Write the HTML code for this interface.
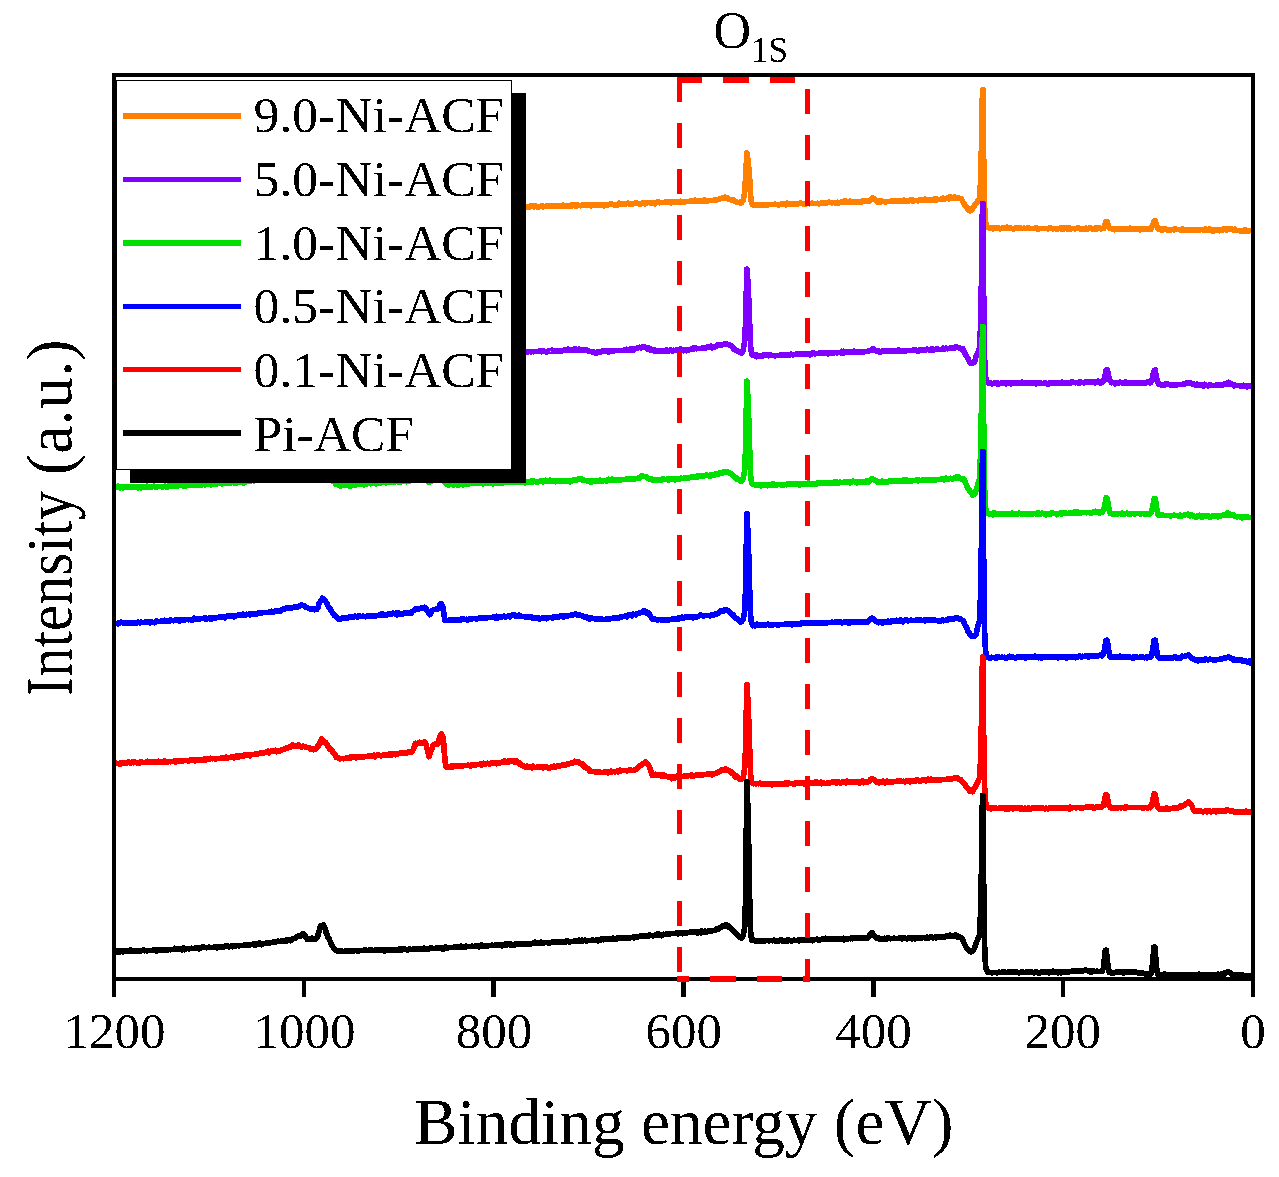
<!DOCTYPE html>
<html><head><meta charset="utf-8"><title>XPS survey spectra</title>
<style>
html,body{margin:0;padding:0;background:#fff;}
body{width:1279px;height:1177px;position:relative;overflow:hidden;font-family:"Liberation Serif",serif;}
</style></head><body>
<svg width="1279" height="1177" viewBox="0 0 1279 1177" style="position:absolute;left:0;top:0">
<rect width="1279" height="1177" fill="#fff"/>
<defs><filter id="bw" x="-5%" y="-5%" width="110%" height="110%" color-interpolation-filters="sRGB"><feComponentTransfer><feFuncA type="discrete" tableValues="0 1"/></feComponentTransfer></filter><clipPath id="cp"><rect x="116" y="77" width="1135" height="904"/></clipPath></defs>
<g clip-path="url(#cp)" fill="none" stroke-linejoin="round" stroke-linecap="butt" shape-rendering="crispEdges">
<polyline stroke="#ff8000" stroke-width="5.7" points="116.0,220.4 117.0,220.9 118.0,221.0 119.0,220.0 120.0,220.9 121.0,220.9 122.0,220.9 123.0,220.6 124.0,220.5 125.0,220.5 126.0,220.7 127.0,220.7 128.0,220.7 129.0,220.6 130.0,220.6 131.0,220.7 132.0,220.4 133.0,220.6 134.0,220.9 135.0,220.4 136.0,220.5 137.0,220.4 138.0,220.2 139.0,220.4 140.0,220.2 141.0,220.0 142.0,220.2 143.0,219.9 144.0,220.1 145.0,220.0 146.0,220.0 147.0,219.9 148.0,219.9 149.0,219.2 150.0,219.9 151.0,219.9 152.0,218.8 153.0,219.7 154.0,219.6 155.0,219.8 156.0,219.6 157.0,219.6 158.0,219.4 159.0,219.6 160.0,219.6 161.0,219.5 162.0,219.4 163.0,220.2 164.0,220.1 165.0,219.3 166.0,219.3 167.0,219.2 168.0,218.4 169.0,219.0 170.0,219.7 171.0,218.9 172.0,219.1 173.0,219.0 174.0,219.1 175.0,219.5 176.0,218.1 177.0,218.8 178.0,218.9 179.0,219.5 180.0,218.7 181.0,217.8 182.0,218.9 183.0,219.3 184.0,218.5 185.0,218.7 186.0,218.5 187.0,218.7 188.0,218.4 189.0,218.4 190.0,218.4 191.0,218.2 192.0,218.6 193.0,218.3 194.0,218.2 195.0,218.4 196.0,218.1 197.0,217.4 198.0,218.8 199.0,218.3 200.0,218.1 201.0,218.0 202.0,218.8 203.0,218.2 204.0,218.0 205.0,218.9 206.0,217.0 207.0,217.9 208.0,218.4 209.0,217.9 210.0,217.7 211.0,217.8 212.0,217.9 213.0,217.1 214.0,217.0 215.0,217.6 216.0,217.5 217.0,216.6 218.0,217.7 219.0,217.3 220.0,217.3 221.0,216.7 222.0,217.2 223.0,216.5 224.0,217.2 225.0,217.1 226.0,217.9 227.0,217.2 228.0,217.7 229.0,217.6 230.0,216.9 231.0,216.5 232.0,217.0 233.0,217.6 234.0,217.0 235.0,217.8 236.0,217.0 237.0,216.9 238.0,216.7 239.0,216.6 240.0,216.9 241.0,216.6 242.0,216.6 243.0,217.6 244.0,216.4 245.0,217.4 246.0,216.5 247.0,216.4 248.0,217.0 249.0,216.3 250.0,216.3 251.0,216.9 252.0,216.9 253.0,215.7 254.0,215.6 255.0,216.4 256.0,216.0 257.0,216.9 258.0,216.0 259.0,216.2 260.0,215.5 261.0,215.1 262.0,215.8 263.0,216.1 264.0,216.1 265.0,215.0 266.0,215.9 267.0,215.8 268.0,216.0 269.0,216.5 270.0,215.1 271.0,216.6 272.0,215.7 273.0,215.6 274.0,215.5 275.0,215.3 276.0,215.5 277.0,215.3 278.0,215.3 279.0,216.4 280.0,215.4 281.0,214.7 282.0,216.0 283.0,215.2 284.0,215.3 285.0,216.0 286.0,215.2 287.0,215.2 288.0,215.1 289.0,214.9 290.0,215.1 291.0,214.9 292.0,215.1 293.0,215.8 294.0,214.8 295.0,214.9 296.0,215.0 297.0,215.0 298.0,214.6 299.0,214.6 300.0,214.8 301.0,215.5 302.0,214.6 303.0,213.8 304.0,215.3 305.0,214.7 306.0,214.3 307.0,214.6 308.0,214.5 309.0,214.5 310.0,214.3 311.0,214.3 312.0,215.0 313.0,214.2 314.0,215.0 315.0,214.0 316.0,214.0 317.0,213.9 318.0,214.8 319.0,213.1 320.0,214.6 321.0,214.7 322.0,214.0 323.0,214.0 324.0,213.9 325.0,214.0 326.0,213.8 327.0,213.7 328.0,213.2 329.0,213.7 330.0,213.7 331.0,213.5 332.0,213.6 333.0,213.5 334.0,213.5 335.0,214.3 336.0,213.4 337.0,213.5 338.0,213.2 339.0,213.3 340.0,213.5 341.0,213.4 342.0,213.3 343.0,214.0 344.0,213.3 345.0,213.3 346.0,213.1 347.0,212.9 348.0,213.1 349.0,213.2 350.0,213.0 351.0,213.0 352.0,212.7 353.0,212.7 354.0,212.7 355.0,212.0 356.0,212.9 357.0,212.8 358.0,212.7 359.0,212.5 360.0,212.8 361.0,212.4 362.0,212.5 363.0,212.3 364.0,212.6 365.0,212.4 366.0,212.2 367.0,212.5 368.0,212.3 369.0,212.3 370.0,211.6 371.0,212.1 372.0,212.4 373.0,212.1 374.0,211.9 375.0,212.2 376.0,212.1 377.0,212.1 378.0,211.9 379.0,211.9 380.0,212.0 381.0,211.9 382.0,211.9 383.0,212.0 384.0,212.0 385.0,211.6 386.0,211.5 387.0,211.8 388.0,211.7 389.0,211.5 390.0,211.6 391.0,210.6 392.0,211.4 393.0,211.3 394.0,212.0 395.0,212.2 396.0,210.8 397.0,211.1 398.0,211.4 399.0,211.3 400.0,211.4 401.0,211.3 402.0,211.2 403.0,210.4 404.0,211.0 405.0,210.4 406.0,211.0 407.0,211.0 408.0,211.0 409.0,209.9 410.0,210.0 411.0,210.8 412.0,211.0 413.0,210.9 414.0,210.6 415.0,210.5 416.0,209.9 417.0,210.5 418.0,210.5 419.0,209.8 420.0,211.4 421.0,210.4 422.0,210.3 423.0,210.6 424.0,211.1 425.0,210.6 426.0,210.2 427.0,209.6 428.0,210.3 429.0,210.1 430.0,210.2 431.0,211.1 432.0,211.0 433.0,210.2 434.0,210.3 435.0,209.1 436.0,209.8 437.0,210.7 438.0,210.4 439.0,209.9 440.0,210.7 441.0,209.8 442.0,209.7 443.0,209.7 444.0,209.9 445.0,210.3 446.0,210.6 447.0,209.5 448.0,209.5 449.0,209.5 450.0,209.6 451.0,209.5 452.0,210.2 453.0,209.5 454.0,209.4 455.0,210.2 456.0,210.1 457.0,209.8 458.0,210.1 459.0,209.1 460.0,209.1 461.0,209.2 462.0,209.1 463.0,210.0 464.0,209.0 465.0,209.0 466.0,209.1 467.0,209.1 468.0,208.3 469.0,208.9 470.0,208.9 471.0,208.9 472.0,208.9 473.0,208.7 474.0,208.9 475.0,208.5 476.0,207.8 477.0,208.5 478.0,208.6 479.0,207.5 480.0,208.6 481.0,207.6 482.0,208.2 483.0,207.6 484.0,208.9 485.0,208.4 486.0,208.2 487.0,208.3 488.0,208.4 489.0,208.2 490.0,208.3 491.0,208.2 492.0,208.3 493.0,207.9 494.0,208.1 495.0,208.0 496.0,208.1 497.0,207.9 498.0,208.4 499.0,207.9 500.0,207.8 501.0,207.8 502.0,207.7 503.0,207.7 504.0,207.6 505.0,207.8 506.0,207.6 507.0,207.6 508.0,207.4 509.0,207.3 510.0,207.6 511.0,207.2 512.0,207.4 513.0,208.0 514.0,207.5 515.0,207.4 516.0,207.4 517.0,207.2 518.0,207.1 519.0,207.1 520.0,207.1 521.0,207.6 522.0,206.1 523.0,206.9 524.0,207.1 525.0,207.1 526.0,206.9 527.0,206.8 528.0,206.7 529.0,207.0 530.0,206.8 531.0,205.8 532.0,206.2 533.0,206.0 534.0,206.8 535.0,205.9 536.0,206.6 537.0,206.8 538.0,207.5 539.0,206.8 540.0,206.4 541.0,206.6 542.0,205.7 543.0,207.0 544.0,206.5 545.0,206.4 546.0,206.4 547.0,205.8 548.0,206.4 549.0,206.3 550.0,206.3 551.0,206.4 552.0,206.3 553.0,206.0 554.0,206.3 555.0,206.3 556.0,206.0 557.0,206.0 558.0,205.9 559.0,206.0 560.0,205.9 561.0,206.0 562.0,206.1 563.0,205.0 564.0,205.9 565.0,205.9 566.0,205.9 567.0,205.7 568.0,205.9 569.0,205.8 570.0,206.5 571.0,205.1 572.0,205.7 573.0,204.8 574.0,204.9 575.0,205.5 576.0,206.3 577.0,204.7 578.0,205.5 579.0,205.5 580.0,205.7 581.0,205.6 582.0,205.3 583.0,205.3 584.0,205.3 585.0,205.3 586.0,204.7 587.0,205.3 588.0,205.1 589.0,205.2 590.0,205.3 591.0,205.9 592.0,205.1 593.0,205.1 594.0,205.2 595.0,205.2 596.0,205.1 597.0,205.1 598.0,205.1 599.0,205.0 600.0,205.1 601.0,204.8 602.0,204.8 603.0,205.5 604.0,205.8 605.0,204.7 606.0,204.9 607.0,205.5 608.0,204.8 609.0,204.5 610.0,204.7 611.0,203.7 612.0,204.5 613.0,204.6 614.0,204.4 615.0,205.3 616.0,204.6 617.0,205.2 618.0,204.3 619.0,203.3 620.0,204.2 621.0,204.3 622.0,204.2 623.0,204.0 624.0,204.0 625.0,203.8 626.0,203.8 627.0,203.7 628.0,203.1 629.0,203.9 630.0,203.9 631.0,203.9 632.0,203.7 633.0,203.9 634.0,203.5 635.0,203.7 636.0,202.6 637.0,203.7 638.0,203.5 639.0,203.5 640.0,204.1 641.0,203.5 642.0,203.4 643.0,202.8 644.0,203.4 645.0,204.1 646.0,203.0 647.0,203.1 648.0,202.4 649.0,202.4 650.0,203.1 651.0,202.9 652.0,202.9 653.0,203.0 654.0,203.5 655.0,203.8 656.0,202.6 657.0,202.6 658.0,201.7 659.0,202.6 660.0,202.7 661.0,202.4 662.0,202.4 663.0,202.5 664.0,202.5 665.0,202.3 666.0,202.6 667.0,202.2 668.0,202.1 669.0,201.7 670.0,202.2 671.0,203.0 672.0,202.1 673.0,202.3 674.0,202.1 675.0,202.1 676.0,201.9 677.0,201.8 678.0,201.8 678.9,201.9 679.9,202.0 680.9,201.3 681.9,201.7 682.9,201.6 683.9,202.5 684.9,201.8 685.9,201.6 686.8,201.6 687.8,201.5 688.8,201.6 689.8,201.3 690.8,200.5 691.8,201.2 692.8,201.2 693.8,201.2 694.7,200.2 695.7,200.3 696.7,201.0 697.7,201.2 698.7,201.1 699.7,200.9 700.7,200.8 701.6,200.8 702.6,200.8 703.6,200.9 704.6,199.9 705.6,200.6 706.6,201.4 707.6,200.6 708.6,200.6 709.5,200.5 710.5,200.5 711.5,200.5 712.5,200.5 713.4,200.4 714.3,200.0 715.2,199.9 716.2,200.0 717.1,199.5 718.0,199.6 719.0,199.1 719.9,198.8 720.9,198.7 721.8,198.3 722.8,197.9 723.8,197.7 724.8,197.1 725.8,198.4 726.9,198.6 727.9,198.1 729.0,199.4 730.0,199.6 731.0,200.0 732.0,200.2 733.0,200.0 734.0,200.3 735.0,201.5 736.0,201.7 737.0,202.0 738.0,202.6 738.9,202.6 739.8,202.1 740.6,203.2 741.5,202.8 742.4,201.1 743.2,200.5 744.6,192.5 745.2,183.5 746.1,168.2 746.9,153.0 747.1,153.0 748.0,160.6 748.8,168.2 750.0,183.5 750.8,199.0 752.0,203.9 752.9,205.0 753.8,205.1 755.0,205.0 756.0,204.8 757.0,204.8 758.0,204.8 759.0,205.1 760.0,204.7 761.0,204.7 762.0,204.6 763.0,204.7 764.0,204.8 765.0,204.9 766.0,204.6 767.0,204.7 768.0,204.8 769.0,204.6 770.0,204.5 771.0,204.7 772.0,204.4 773.0,204.6 774.0,204.4 775.0,204.3 776.0,204.6 777.0,204.4 778.0,205.0 779.0,204.9 780.0,204.4 781.0,204.2 782.0,204.3 783.0,204.2 784.0,204.0 785.0,204.3 786.0,204.9 787.0,203.3 788.0,204.2 789.0,204.0 790.0,204.0 791.0,204.2 792.0,204.1 793.0,204.1 794.0,203.9 795.0,204.0 796.0,204.1 797.0,203.7 798.0,203.7 799.0,203.6 800.0,203.0 801.0,203.2 802.0,203.7 803.0,203.7 804.0,203.6 805.0,204.6 806.0,203.7 807.0,203.6 808.0,203.6 809.0,203.6 810.0,203.7 811.0,203.4 812.0,203.3 813.0,203.4 814.0,203.5 815.0,203.6 816.0,203.4 817.0,203.5 818.0,203.3 819.0,204.1 820.0,203.3 821.0,203.2 822.0,203.1 823.0,202.9 824.0,203.2 825.0,203.6 826.0,202.9 827.0,202.8 828.0,202.7 829.0,202.2 830.0,202.6 831.0,202.6 832.0,202.8 833.0,202.4 834.0,202.5 835.0,202.6 836.0,203.4 837.0,202.3 838.0,202.4 839.0,203.0 840.0,202.4 841.0,202.3 842.0,202.3 843.0,202.0 844.0,201.2 845.0,202.0 846.0,201.1 847.0,202.0 848.0,201.9 849.0,201.8 850.0,201.2 851.0,201.8 852.0,201.7 853.0,201.7 854.0,201.6 855.0,201.6 856.0,202.5 857.0,201.5 858.0,202.4 859.0,201.4 860.0,201.6 861.0,202.6 862.0,201.4 863.0,200.9 864.0,201.4 865.0,200.8 866.0,201.3 867.0,200.8 868.0,201.5 869.1,200.8 870.2,200.7 871.4,199.4 872.5,197.8 873.6,198.9 874.8,199.1 875.9,200.1 877.0,201.6 878.0,202.2 879.0,202.6 880.0,201.0 881.0,201.8 882.0,201.1 883.0,201.5 884.0,201.7 885.0,201.6 886.0,201.7 887.0,201.6 888.0,201.4 889.0,201.5 890.0,201.5 891.0,201.4 892.0,200.4 893.0,201.2 894.0,200.6 895.0,201.1 896.0,201.0 897.0,201.0 898.0,201.0 899.0,200.9 900.0,201.0 901.0,200.9 902.0,200.7 903.0,200.9 904.0,200.2 905.0,201.4 906.0,200.6 907.0,200.6 908.0,200.7 909.0,200.8 910.0,200.7 911.0,199.8 912.0,199.6 913.0,201.3 914.0,200.6 915.0,200.5 916.0,200.5 917.0,200.4 918.0,200.8 919.0,200.3 920.0,200.1 921.0,200.3 922.0,200.1 923.0,199.9 924.0,200.1 925.0,199.0 926.0,200.5 927.0,200.7 928.0,200.1 929.0,200.0 930.0,200.0 931.0,199.8 932.0,200.4 933.0,199.6 934.0,199.1 935.0,198.9 936.0,200.2 937.0,199.1 938.0,199.4 939.0,199.6 940.0,199.6 941.0,199.1 942.0,199.2 943.0,198.1 944.0,198.8 945.0,198.7 946.0,198.7 947.0,198.3 948.0,198.3 949.0,198.7 950.0,196.8 951.0,197.6 952.0,197.7 953.0,198.3 954.0,197.1 955.0,197.2 956.0,197.4 957.0,198.4 958.0,197.9 959.0,198.4 960.0,198.6 961.0,198.9 962.1,200.1 963.2,202.5 964.4,204.2 965.5,206.1 966.4,207.0 967.3,208.2 968.7,210.0 969.5,210.5 970.2,210.9 971.0,210.5 971.7,210.0 973.1,207.5 974.1,206.0 975.1,204.6 976.1,203.6 977.2,202.2 978.1,200.3 979.1,199.3 980.0,197.0 980.8,170.2 981.6,143.5 982.5,90.0 983.0,90.0 983.4,143.5 984.3,197.0 984.9,215.4 985.8,223.3 986.6,225.3 987.5,227.3 988.2,227.5 989.0,227.7 990.0,228.4 991.0,228.4 992.0,228.1 993.0,228.8 994.0,228.3 995.0,228.3 996.0,228.4 997.0,228.4 998.0,227.7 999.0,228.3 1000.0,229.1 1001.0,228.3 1002.0,228.3 1003.0,228.2 1004.0,228.4 1005.0,228.2 1006.0,228.1 1007.0,227.3 1008.0,228.3 1009.0,228.3 1010.0,228.3 1011.0,228.3 1012.0,228.3 1013.0,229.1 1014.0,228.5 1015.0,228.4 1016.0,227.7 1017.0,227.8 1018.0,228.3 1019.0,228.5 1020.0,227.7 1021.0,228.6 1022.0,228.6 1023.0,228.4 1024.0,228.3 1025.0,228.5 1026.0,228.6 1027.0,228.3 1028.0,227.7 1029.0,228.5 1030.0,228.6 1031.0,228.5 1032.0,228.5 1033.0,228.5 1034.0,228.5 1035.0,228.5 1036.0,227.7 1037.0,228.6 1038.0,229.4 1039.0,228.4 1040.0,228.4 1041.0,228.5 1042.0,228.5 1043.0,228.6 1044.0,228.4 1045.0,228.6 1046.0,228.4 1047.0,228.7 1048.0,228.6 1049.0,228.7 1050.0,227.6 1051.0,228.4 1052.0,228.4 1053.0,229.1 1054.0,228.4 1055.0,228.7 1056.0,228.7 1057.0,229.2 1058.0,228.8 1059.0,228.5 1060.0,228.5 1061.0,227.6 1062.0,229.4 1063.0,227.7 1064.0,228.7 1065.0,228.6 1066.0,228.0 1067.0,228.7 1068.0,228.1 1069.0,228.8 1070.0,228.0 1071.0,228.8 1072.0,228.5 1073.0,228.5 1074.0,228.7 1075.0,228.7 1076.0,228.6 1077.0,228.5 1078.0,227.7 1079.0,228.7 1080.0,228.7 1081.0,228.7 1082.0,228.7 1083.0,228.9 1084.0,228.7 1085.0,228.9 1086.0,228.1 1087.0,229.4 1088.0,228.7 1089.0,228.2 1090.0,228.6 1091.0,227.9 1092.0,228.9 1093.0,228.8 1094.0,229.3 1095.0,228.7 1096.0,227.8 1097.0,228.8 1098.0,228.6 1099.1,228.2 1100.1,228.0 1101.1,228.9 1102.1,228.6 1102.8,228.2 1103.6,228.5 1104.9,224.7 1105.9,221.8 1107.1,221.8 1108.1,224.6 1109.4,228.0 1110.2,228.2 1110.9,228.3 1111.9,228.7 1112.9,229.1 1113.9,229.7 1114.9,229.7 1115.9,228.7 1116.9,228.8 1117.9,228.9 1118.9,229.1 1119.9,229.1 1121.0,229.0 1122.0,228.8 1123.0,228.9 1124.0,228.8 1125.0,229.0 1126.0,229.0 1127.0,229.1 1128.0,229.0 1129.0,228.9 1130.0,228.3 1131.0,228.8 1132.0,229.1 1133.0,229.2 1134.0,228.9 1135.0,228.9 1136.1,228.8 1137.1,229.0 1138.1,228.9 1139.1,228.8 1140.1,229.8 1141.1,229.6 1142.1,229.1 1143.1,228.8 1144.1,228.8 1145.1,229.0 1146.2,229.0 1147.2,228.8 1148.2,228.9 1149.2,228.8 1150.2,228.1 1150.9,229.3 1151.7,227.2 1153.0,225.3 1154.0,221.0 1155.2,220.9 1156.2,224.6 1157.5,228.0 1158.2,228.8 1159.0,229.6 1160.0,229.6 1161.0,228.6 1162.0,230.5 1163.0,229.7 1164.0,229.4 1165.0,228.9 1166.1,229.5 1167.1,229.5 1168.1,230.2 1169.1,229.7 1170.1,229.6 1171.1,229.8 1172.1,229.6 1173.1,229.7 1174.1,229.8 1175.1,228.8 1176.1,229.5 1177.1,229.6 1178.2,229.5 1179.2,229.7 1180.2,229.7 1181.2,229.7 1182.2,228.9 1183.2,230.4 1184.2,229.7 1185.2,229.7 1186.2,229.7 1187.2,229.8 1188.2,229.6 1189.2,230.4 1190.2,229.6 1191.3,229.7 1192.3,229.8 1193.3,229.7 1194.3,229.8 1195.3,229.7 1196.3,229.9 1197.3,229.9 1198.3,230.5 1199.3,229.7 1200.3,229.8 1201.3,229.6 1202.3,229.7 1203.4,230.0 1204.4,230.0 1205.4,229.2 1206.4,229.3 1207.4,230.4 1208.4,229.8 1209.4,229.0 1210.4,229.9 1211.4,230.7 1212.4,230.1 1213.4,230.9 1214.4,230.0 1215.5,230.0 1216.5,229.9 1217.5,230.1 1218.5,229.9 1219.5,230.6 1220.5,229.9 1221.5,230.1 1222.6,230.4 1223.6,229.0 1224.7,229.4 1225.8,228.7 1226.8,230.1 1227.9,229.0 1228.9,229.0 1230.0,228.6 1231.0,228.8 1232.0,229.4 1233.0,229.5 1234.0,230.5 1235.0,229.3 1236.0,230.2 1237.0,230.7 1238.0,230.4 1239.1,230.7 1240.1,230.6 1241.1,231.4 1242.2,230.7 1243.2,230.7 1244.2,230.1 1245.3,231.0 1246.3,230.2 1247.4,230.9 1248.4,231.3 1249.4,230.6 1250.5,230.4 1251.5,231.2"/>
<polyline stroke="#8000ff" stroke-width="5.7" points="116.0,360.8 117.0,359.9 118.0,361.2 119.0,359.7 120.0,361.3 121.0,360.6 122.0,360.4 123.0,360.4 124.0,360.6 125.0,360.6 126.0,360.4 127.0,360.2 128.0,359.8 129.0,360.2 130.0,360.5 131.0,360.1 132.0,360.4 133.0,360.4 134.0,360.3 135.0,360.4 136.0,360.0 137.0,360.2 138.0,360.1 139.0,360.3 140.0,360.2 141.0,360.2 142.0,360.0 143.0,360.2 144.0,360.0 145.0,360.9 146.0,360.1 147.0,360.0 148.0,359.8 149.0,360.0 150.0,359.9 151.0,359.8 152.0,359.8 153.0,359.9 154.0,359.9 155.0,359.6 156.0,359.9 157.0,359.1 158.0,358.8 159.0,360.3 160.0,358.9 161.0,359.4 162.0,359.5 163.0,359.4 164.0,359.4 165.0,359.3 166.0,359.6 167.0,358.7 168.0,358.6 169.0,359.6 170.0,358.8 171.0,359.3 172.0,359.4 173.0,360.2 174.0,359.4 175.0,359.2 176.0,359.2 177.0,360.2 178.0,359.3 179.0,359.2 180.0,359.4 181.0,359.1 182.0,359.2 183.0,359.3 184.0,359.0 185.0,358.6 186.0,359.1 187.0,359.2 188.0,358.9 189.0,358.9 190.0,359.0 191.0,359.1 192.0,358.9 193.0,358.7 194.0,359.5 195.0,358.7 196.0,358.3 197.0,358.3 198.0,358.8 199.0,358.8 200.0,358.9 201.0,359.5 202.0,357.8 203.0,358.7 204.0,358.8 205.0,358.5 206.0,358.5 207.0,358.7 208.0,358.5 209.0,358.5 210.0,357.6 211.0,358.3 212.0,358.5 213.0,358.4 214.0,358.3 215.0,358.4 216.0,358.3 217.0,358.3 218.0,358.3 219.0,358.5 220.0,358.2 221.0,357.5 222.0,358.3 223.0,357.8 224.0,358.4 225.0,358.2 226.0,358.2 227.0,358.1 228.0,358.2 229.0,358.3 230.0,358.3 231.0,358.0 232.0,358.0 233.0,358.1 234.0,358.1 235.0,357.9 236.0,358.2 237.0,358.9 238.0,358.1 239.0,358.1 240.0,358.6 241.0,358.0 242.0,357.7 243.0,357.7 244.0,358.0 245.0,357.7 246.0,357.8 247.0,357.0 248.0,357.7 249.0,357.8 250.0,357.5 251.0,357.5 252.0,357.8 253.0,356.9 254.0,357.7 255.0,357.7 256.0,357.7 257.0,357.6 258.0,357.6 259.0,357.4 260.0,357.4 261.0,357.6 262.0,357.2 263.0,357.5 264.0,357.4 265.0,357.2 266.0,357.4 267.0,357.5 268.0,357.1 269.0,357.4 270.0,356.5 271.0,357.0 272.0,357.2 273.0,357.1 274.0,357.4 275.0,357.1 276.0,357.1 277.0,356.9 278.0,357.3 279.0,357.0 280.0,357.0 281.0,357.1 282.0,357.1 283.0,357.2 284.0,357.0 285.0,357.0 286.0,357.6 287.0,356.8 288.0,357.8 289.0,356.9 290.0,356.8 291.0,356.7 292.0,356.8 293.0,356.9 294.0,357.4 295.0,356.8 296.0,356.6 297.0,356.5 298.0,356.6 299.0,356.8 300.0,356.7 301.0,356.5 302.0,356.5 303.0,356.7 304.0,357.4 305.0,357.0 306.0,356.3 307.0,356.4 308.0,356.6 309.0,356.5 310.0,356.3 311.0,355.6 312.0,356.5 313.0,355.4 314.0,357.0 315.0,356.2 316.0,356.4 317.0,356.3 318.0,356.3 319.0,356.3 320.0,356.3 321.0,356.1 322.0,356.2 323.0,356.1 324.0,356.8 325.0,355.4 326.0,356.2 327.0,355.3 328.0,356.2 329.0,356.0 330.0,355.8 331.0,355.9 332.0,356.0 333.0,356.5 334.0,356.1 335.0,355.8 336.0,356.4 337.0,355.7 338.0,355.8 339.0,355.7 340.0,355.6 341.0,355.0 342.0,355.5 343.0,355.8 344.0,355.8 345.0,355.6 346.0,355.6 347.0,355.6 348.0,355.7 349.0,355.6 350.0,355.7 351.0,355.6 352.0,355.4 353.0,355.3 354.0,354.9 355.0,355.4 356.0,356.0 357.0,355.2 358.0,356.0 359.0,356.2 360.0,355.8 361.0,355.2 362.0,355.3 363.0,354.7 364.0,355.0 365.0,355.1 366.0,355.1 367.0,355.0 368.0,355.0 369.0,355.2 370.0,355.1 371.0,355.1 372.0,355.2 373.0,355.1 374.0,355.0 375.0,354.8 376.0,354.8 377.0,355.6 378.0,354.9 379.0,355.0 380.0,354.9 381.0,355.0 382.0,354.7 383.0,354.9 384.0,354.6 385.0,354.6 386.0,353.9 387.0,354.8 388.0,354.7 389.0,353.8 390.0,354.5 391.0,354.1 392.0,354.8 393.0,354.4 394.0,354.7 395.0,354.7 396.0,355.4 397.0,354.7 398.0,354.4 399.0,354.5 400.0,354.5 401.0,355.4 402.0,355.1 403.0,354.3 404.0,354.5 405.0,353.5 406.0,354.3 407.0,354.2 408.0,354.2 409.0,355.0 410.0,354.4 411.0,354.0 412.0,354.2 413.0,354.3 414.0,354.2 415.0,355.0 416.0,354.2 417.0,353.5 418.0,354.0 419.0,354.1 420.0,354.0 421.0,354.1 422.0,353.4 423.0,354.8 424.0,353.9 425.0,353.7 426.0,354.0 427.0,354.8 428.0,353.7 429.0,354.0 430.0,353.8 431.0,353.7 432.0,353.8 433.0,353.6 434.0,353.8 435.0,353.5 436.0,353.6 437.0,353.5 438.0,353.4 439.0,353.7 440.0,353.6 441.0,354.4 442.0,353.5 443.0,354.3 444.0,353.5 445.0,353.6 446.0,352.9 447.0,352.8 448.0,353.2 449.0,354.3 450.0,352.5 451.0,352.8 452.0,353.2 453.0,354.2 454.0,353.1 455.0,353.3 456.0,353.3 457.0,353.1 458.0,353.1 459.0,353.0 460.0,354.1 461.0,352.2 462.0,353.8 463.0,352.5 464.0,353.9 465.0,353.2 466.0,352.2 467.0,352.9 468.0,353.5 469.0,352.8 470.0,352.4 471.0,352.7 472.0,352.9 473.0,353.6 474.0,352.7 475.0,353.3 476.0,352.7 477.0,352.9 478.0,352.9 479.0,352.7 480.0,352.9 481.0,352.5 482.0,352.5 483.0,353.4 484.0,352.6 485.0,352.6 486.0,352.5 487.0,352.7 488.0,352.6 489.0,353.5 490.0,353.3 491.0,352.4 492.0,352.4 493.0,352.4 494.0,352.4 495.0,352.4 496.0,352.5 497.0,352.3 498.0,352.4 499.0,352.5 500.0,353.1 501.0,352.4 502.0,352.2 503.0,352.3 504.0,352.1 505.0,352.1 506.0,351.4 507.0,352.3 508.0,352.1 509.0,352.1 510.0,352.1 511.0,352.2 512.0,352.1 513.0,351.8 514.0,351.8 515.0,351.9 516.0,352.0 517.0,352.8 518.0,351.9 519.0,351.7 520.0,351.9 521.0,351.7 522.0,351.3 523.0,351.8 524.0,351.5 525.0,351.9 526.0,352.3 527.0,351.8 528.0,351.8 529.1,351.6 530.1,351.7 531.1,351.8 532.1,351.5 533.1,351.7 534.2,351.5 535.2,351.4 536.2,351.6 537.2,351.4 538.2,351.5 539.3,351.4 540.3,350.5 541.3,351.6 542.3,350.4 543.4,350.7 544.4,351.5 545.4,351.4 546.4,352.3 547.4,351.4 548.5,351.2 549.5,351.2 550.5,351.5 551.5,351.5 552.4,350.3 553.4,351.4 554.3,351.3 555.3,351.3 556.2,351.2 557.2,350.5 558.2,351.3 559.1,351.2 560.1,350.9 561.0,351.2 562.0,350.9 563.0,350.7 563.9,350.2 564.9,349.9 565.9,349.8 566.9,350.4 567.8,349.3 568.8,349.9 569.8,349.4 570.8,350.1 571.9,349.9 572.9,349.7 573.9,350.0 575.0,348.8 576.0,349.9 577.0,350.6 578.0,349.9 579.0,349.0 580.0,349.8 581.0,349.8 582.0,350.6 583.0,349.9 584.0,350.1 585.0,350.2 586.0,350.5 587.0,350.2 588.0,350.8 589.0,351.3 590.0,351.5 591.0,351.5 592.1,351.9 593.1,351.9 594.2,352.3 595.2,353.0 596.2,353.1 597.2,352.1 598.3,351.4 599.3,352.1 600.3,352.0 601.3,351.7 602.3,350.8 603.4,351.5 604.4,350.7 605.4,351.4 606.4,350.5 607.4,351.2 608.4,352.1 609.5,351.0 610.5,351.1 611.5,351.1 612.5,350.8 613.5,350.8 614.5,350.7 615.6,350.6 616.6,350.6 617.6,350.6 618.6,350.6 619.6,350.5 620.6,350.4 621.7,350.4 622.7,350.4 623.7,350.2 624.7,350.4 625.7,350.0 626.8,349.3 627.8,350.2 628.8,350.1 629.8,349.2 630.8,349.8 631.9,350.3 633.0,348.5 634.0,349.8 635.0,348.8 636.0,348.4 636.9,348.1 637.9,347.7 638.9,347.4 639.9,347.3 641.0,348.1 642.0,347.1 643.0,347.2 644.0,347.4 645.0,347.3 646.0,347.5 647.0,348.7 648.0,347.9 649.0,348.2 650.0,348.9 651.0,350.3 652.0,349.9 653.1,350.2 654.2,351.0 655.2,350.3 656.2,351.1 657.2,351.4 658.2,351.3 659.3,351.3 660.3,351.1 661.3,350.9 662.3,350.5 663.3,351.1 664.3,350.9 665.3,351.5 666.3,349.9 667.4,350.6 668.4,350.8 669.4,350.7 670.4,349.7 671.4,350.6 672.4,351.1 673.4,350.3 674.4,350.4 675.5,350.5 676.5,350.3 677.5,349.5 678.5,350.4 679.5,350.1 680.5,349.1 681.5,350.1 682.6,350.6 683.6,350.7 684.6,349.9 685.6,349.9 686.6,350.6 687.6,349.6 688.7,350.1 689.7,349.4 690.7,349.5 691.7,349.4 692.7,348.2 693.8,348.9 694.8,348.2 695.8,348.1 696.8,348.7 697.8,348.6 698.8,348.6 699.9,348.5 700.9,348.6 701.9,348.5 702.9,347.7 703.9,348.3 704.9,347.9 706.0,347.7 707.0,347.1 708.0,347.6 709.0,347.3 710.0,347.2 711.0,346.3 712.0,347.9 713.1,346.9 714.1,347.0 715.1,346.6 716.1,346.3 717.1,345.9 718.0,344.9 719.0,345.6 720.0,344.4 721.0,345.1 722.1,344.6 723.1,344.4 724.2,344.4 725.2,343.5 726.3,343.7 727.2,344.1 728.2,344.5 729.1,345.0 730.1,345.4 731.0,345.8 732.0,346.9 733.0,347.4 734.0,349.2 735.0,349.2 736.0,350.1 737.0,350.8 738.0,351.3 738.9,351.8 739.8,352.0 740.6,352.6 741.5,353.0 742.4,351.5 743.2,349.8 744.6,341.8 745.2,332.8 746.1,301.0 746.9,269.2 747.1,269.2 748.0,285.1 748.8,301.0 750.0,332.8 750.8,349.7 752.0,354.9 752.9,355.1 753.8,355.6 754.8,355.8 755.8,354.7 756.8,356.6 757.8,355.6 758.8,355.4 759.8,355.8 760.8,355.8 761.8,356.2 762.8,355.7 763.8,354.9 764.9,355.7 765.9,355.6 766.9,354.7 767.9,355.6 768.9,355.7 769.9,355.6 770.9,354.9 771.9,355.4 772.9,355.6 773.9,355.6 775.0,356.0 776.0,355.4 777.0,355.5 778.0,355.4 779.0,355.4 780.0,355.3 781.0,355.3 782.0,355.4 783.0,355.3 784.0,355.0 785.0,355.2 786.0,355.2 787.0,355.0 788.0,355.1 789.0,355.0 790.0,354.7 791.0,354.0 792.0,354.6 793.0,354.8 794.0,354.5 795.0,354.4 796.0,354.6 797.0,353.8 798.0,354.4 799.0,354.2 800.0,354.3 801.0,354.2 802.0,354.1 803.0,354.3 804.0,353.9 805.0,354.1 806.0,353.8 807.0,353.9 808.0,353.8 809.0,354.0 810.0,354.7 811.0,353.7 812.0,353.8 813.0,352.7 814.0,353.4 815.0,353.8 816.0,353.6 817.0,353.4 818.0,353.6 819.0,353.3 820.0,353.3 821.0,353.1 822.0,352.6 823.0,353.1 824.0,353.1 825.0,353.0 826.0,352.4 827.0,353.6 828.0,354.0 829.0,352.9 830.0,352.7 831.0,352.7 832.0,352.9 833.0,352.8 834.0,352.9 835.0,352.6 836.0,352.6 837.0,352.7 838.0,352.7 839.0,352.4 840.0,352.4 841.0,352.9 842.0,351.4 843.0,353.2 844.0,351.4 845.0,352.1 846.0,352.2 847.0,352.0 848.0,351.4 849.0,352.0 850.0,352.1 851.0,352.1 852.0,351.8 853.0,351.9 854.0,351.1 855.0,351.8 856.0,352.5 857.0,352.0 858.0,351.6 859.0,351.9 860.0,351.9 861.0,351.6 862.0,351.6 863.0,352.5 864.0,351.5 865.0,351.5 866.0,351.4 867.0,351.6 868.0,351.5 869.1,350.6 870.2,350.6 871.4,350.2 872.5,348.5 873.6,349.3 874.8,350.0 875.9,350.6 877.0,351.4 878.0,350.8 879.0,351.3 880.0,352.2 881.0,351.3 882.0,351.3 883.0,351.3 884.0,351.4 885.0,350.7 886.0,351.2 887.0,351.2 888.0,351.1 889.0,351.2 890.0,351.3 891.0,350.5 892.0,351.2 893.0,351.0 894.0,350.9 895.0,350.8 896.0,351.0 897.0,351.1 898.0,351.1 899.0,349.9 900.0,350.8 901.0,350.9 902.0,350.9 903.0,350.9 904.0,351.4 905.0,350.8 906.0,350.8 907.0,350.6 908.0,350.6 909.0,350.6 910.0,350.6 911.0,350.6 912.0,350.5 913.0,350.4 914.0,349.5 915.0,349.6 916.0,350.4 917.0,350.8 918.0,350.9 919.0,351.1 920.0,349.6 921.0,350.0 922.0,349.4 923.0,350.2 924.0,349.9 925.0,350.0 926.0,349.8 927.0,349.0 928.0,349.7 929.0,349.8 930.0,350.0 931.0,349.3 932.0,348.9 933.0,350.4 934.0,349.5 935.0,349.5 936.0,349.6 937.0,348.9 938.0,349.5 939.0,349.5 940.0,349.5 941.0,349.6 942.0,349.2 943.0,348.3 944.0,349.2 945.0,348.9 946.0,348.2 947.0,348.7 948.0,348.6 949.0,348.4 950.0,348.0 950.9,348.3 951.9,347.5 952.8,348.0 953.8,348.0 954.7,347.9 955.6,346.9 956.6,347.5 957.5,347.3 958.4,347.5 959.3,348.0 960.2,348.3 961.2,349.2 962.1,348.8 963.0,348.9 964.1,351.3 965.2,354.4 966.4,355.7 967.5,357.9 968.4,359.5 969.3,361.7 970.7,363.4 971.5,362.9 972.2,363.1 973.0,362.8 973.7,362.8 975.1,360.0 976.0,356.7 976.8,355.3 977.7,353.2 978.9,350.1 980.0,347.0 980.8,311.1 981.6,275.2 982.5,203.5 983.0,203.5 983.4,275.2 984.3,347.0 984.9,368.1 985.8,378.8 986.6,380.6 987.5,382.7 988.2,382.9 989.0,383.1 990.0,383.1 991.0,383.1 992.0,384.0 993.0,383.3 994.0,383.4 995.0,383.3 996.0,383.2 997.0,383.8 998.0,383.1 999.0,383.8 1000.0,383.4 1001.0,383.1 1002.0,383.3 1003.0,383.3 1004.0,383.3 1005.0,383.2 1006.0,384.0 1007.0,383.2 1008.0,383.2 1009.0,382.6 1010.0,383.3 1011.0,384.1 1012.0,383.1 1013.0,383.3 1014.0,383.4 1015.0,383.1 1016.0,383.3 1017.0,383.3 1018.0,383.3 1019.0,383.3 1020.0,383.4 1021.0,383.2 1022.0,382.3 1023.0,383.2 1024.0,383.2 1025.0,383.2 1026.0,383.3 1027.0,383.2 1028.0,383.3 1029.0,383.3 1030.0,383.3 1031.0,383.1 1032.0,383.3 1033.0,383.2 1034.0,383.3 1035.0,383.2 1036.0,384.1 1037.0,382.6 1038.0,383.2 1039.0,383.3 1040.0,383.1 1041.0,383.2 1042.0,383.4 1043.0,383.4 1044.0,383.1 1045.0,383.1 1046.0,383.3 1047.0,383.4 1048.0,384.2 1049.0,383.1 1050.0,383.4 1051.0,383.2 1052.0,383.1 1053.0,383.1 1054.0,383.2 1055.0,383.7 1056.0,383.2 1057.0,382.9 1058.0,383.1 1059.0,383.0 1060.0,382.9 1061.0,382.8 1062.0,382.3 1063.0,382.9 1064.0,382.7 1065.0,383.0 1066.0,382.6 1067.0,382.7 1068.0,382.7 1069.0,382.7 1070.0,382.6 1071.0,382.8 1072.0,381.6 1073.0,382.5 1074.0,382.4 1075.0,382.7 1076.0,382.6 1077.0,382.5 1078.0,382.4 1079.0,383.4 1080.0,381.5 1081.0,382.3 1082.0,382.5 1083.0,382.5 1084.0,382.8 1085.0,382.2 1086.0,382.2 1087.0,382.2 1088.0,382.1 1089.0,382.2 1090.0,382.1 1091.0,382.0 1092.0,382.0 1093.0,382.1 1094.0,382.0 1095.0,382.8 1095.9,381.8 1096.9,381.5 1097.8,381.2 1098.8,382.5 1099.7,382.1 1100.6,383.0 1101.6,381.9 1102.5,381.9 1103.2,381.0 1104.0,380.2 1105.3,375.0 1106.3,370.0 1107.5,370.0 1108.5,375.3 1109.8,380.9 1110.6,381.1 1111.3,382.7 1112.3,382.6 1113.3,382.6 1114.3,383.0 1115.2,383.7 1116.2,382.7 1117.2,383.0 1118.2,382.9 1119.2,382.9 1120.2,382.1 1121.1,382.6 1122.1,382.9 1123.1,382.8 1124.1,382.9 1125.1,381.9 1126.1,382.9 1127.0,383.4 1128.0,382.8 1129.0,382.6 1130.0,382.9 1131.0,382.8 1132.0,383.6 1133.0,382.9 1134.0,382.7 1135.0,382.9 1136.1,382.8 1137.1,382.7 1138.1,383.4 1139.1,382.8 1140.1,382.8 1141.1,382.9 1142.1,382.9 1143.1,382.8 1144.1,382.7 1145.1,383.0 1146.2,382.7 1147.2,382.1 1148.2,382.1 1149.2,382.7 1150.2,382.9 1150.9,381.8 1151.7,380.9 1153.0,375.3 1154.0,370.9 1155.2,370.0 1156.2,376.0 1157.5,382.2 1158.2,383.4 1159.0,384.4 1160.0,384.2 1161.0,384.6 1162.0,385.2 1163.0,384.4 1164.0,385.2 1165.0,384.5 1166.0,383.5 1167.0,383.7 1168.0,384.5 1169.0,384.4 1170.0,384.6 1171.0,385.2 1172.0,384.5 1173.0,384.5 1174.0,384.6 1175.0,385.4 1176.0,385.4 1177.0,384.6 1178.0,384.5 1179.0,384.4 1180.0,384.5 1181.0,384.4 1182.0,384.5 1183.0,384.3 1184.0,384.1 1185.0,383.5 1186.0,383.4 1187.0,382.6 1188.0,383.3 1189.0,382.7 1190.0,382.6 1191.0,383.1 1192.0,384.0 1193.0,384.6 1194.0,384.1 1195.0,385.0 1196.0,385.1 1197.0,384.2 1198.0,384.9 1199.0,385.0 1200.0,385.2 1201.0,385.3 1202.0,385.1 1203.0,386.1 1204.0,386.0 1205.0,384.4 1206.0,385.1 1207.0,385.4 1208.0,385.9 1209.0,385.1 1210.0,385.2 1211.0,385.3 1212.0,385.5 1213.0,385.4 1214.0,385.4 1215.0,385.6 1216.0,385.5 1217.0,384.7 1218.0,385.5 1219.0,385.7 1220.0,385.3 1220.9,385.0 1221.8,385.0 1222.8,384.8 1223.8,384.2 1224.7,384.0 1225.7,383.8 1226.6,383.6 1227.5,384.4 1228.5,382.3 1229.4,383.7 1230.4,383.8 1231.3,384.2 1232.2,384.2 1233.2,384.7 1234.1,385.9 1235.1,385.1 1236.0,385.5 1237.0,385.6 1237.9,385.5 1238.9,385.6 1239.9,385.8 1240.8,385.6 1241.8,385.7 1242.8,385.8 1243.8,385.3 1244.7,385.9 1245.7,386.0 1246.7,386.8 1247.6,386.2 1248.6,386.1 1249.6,386.2 1250.5,386.3 1251.5,386.3"/>
<polyline stroke="#00e000" stroke-width="5.7" points="116.0,486.6 117.0,487.3 118.0,486.3 119.0,487.3 120.0,488.0 121.0,487.2 122.0,487.1 123.0,488.1 124.0,487.0 125.0,487.2 126.0,487.0 127.0,487.2 128.0,487.3 129.0,487.3 130.0,487.2 131.0,487.3 132.0,486.9 133.0,486.5 134.0,487.2 135.0,487.0 136.0,487.1 137.0,487.0 138.0,487.9 139.0,487.2 140.0,487.1 141.0,488.0 142.0,487.0 143.0,486.8 144.0,486.9 145.0,486.7 146.0,487.0 147.0,486.1 148.0,487.5 149.0,486.6 150.0,486.8 151.0,486.7 152.0,486.9 153.0,486.6 154.0,486.1 155.0,486.4 156.0,487.2 157.0,486.6 158.0,486.5 159.0,486.4 160.0,486.4 161.0,486.4 162.0,486.5 163.0,487.1 164.0,486.3 165.0,486.5 166.0,486.3 167.0,487.3 168.0,486.2 169.0,486.1 170.0,486.1 171.0,486.3 172.0,486.0 173.0,486.1 174.0,485.8 175.0,486.0 176.0,485.9 177.0,485.2 178.0,485.8 179.0,485.7 180.0,485.5 181.0,485.7 182.0,485.5 183.0,485.4 184.0,486.3 185.0,486.4 186.0,485.3 187.0,485.5 188.0,484.4 189.0,485.1 190.0,484.6 191.0,485.2 192.0,485.1 193.0,484.9 194.0,485.1 195.0,485.0 196.0,484.9 197.0,484.8 198.0,484.6 199.0,484.7 200.0,484.9 201.0,484.7 202.0,484.8 203.0,484.4 204.0,484.6 205.0,484.7 206.0,484.6 207.0,484.5 208.0,484.1 209.0,484.0 210.0,484.2 211.0,484.9 212.0,483.4 213.0,484.0 214.0,483.9 215.0,483.9 216.0,483.7 217.0,483.7 218.0,483.6 219.0,483.0 220.0,483.6 221.0,483.5 222.0,483.9 223.0,483.2 224.0,483.2 225.0,483.3 226.0,482.2 227.0,482.5 228.0,483.1 229.0,483.5 230.0,482.7 231.0,482.8 232.0,482.6 233.0,482.5 234.0,482.8 235.0,482.5 236.0,483.3 237.0,482.6 238.0,482.4 239.0,482.3 240.0,482.6 241.0,482.6 242.0,482.2 243.0,483.1 244.0,482.7 245.0,480.9 246.0,481.9 247.0,481.5 248.0,481.2 249.0,481.3 250.0,481.2 251.0,481.0 252.0,480.5 253.0,480.3 254.0,480.9 255.0,479.4 256.0,480.2 257.0,480.2 258.0,479.1 259.0,480.0 260.0,479.9 261.0,479.1 262.0,479.8 263.0,480.5 264.0,478.8 265.0,478.6 266.0,479.4 267.0,479.2 268.0,479.1 269.0,479.0 270.0,479.8 271.0,478.8 272.0,478.8 273.0,478.7 274.0,479.5 275.0,477.8 276.0,478.5 277.0,478.3 278.0,478.1 279.0,478.0 280.0,478.2 281.0,477.9 282.0,477.9 283.0,477.7 284.0,477.8 285.0,477.4 286.0,477.5 287.0,477.9 288.0,477.3 289.0,477.2 290.0,476.9 291.0,477.0 292.1,476.5 293.1,476.3 294.2,476.4 295.2,476.0 296.2,476.2 297.3,475.9 298.3,474.7 299.4,475.4 300.4,475.2 301.5,475.3 302.5,474.9 303.5,475.2 304.5,475.6 305.6,475.2 306.6,475.9 307.6,476.5 308.6,476.4 309.7,476.9 310.7,477.9 311.7,477.3 312.7,477.8 313.8,478.5 314.7,477.2 315.7,476.5 316.7,475.7 317.6,475.0 318.6,474.2 319.6,473.4 320.6,472.4 321.5,471.7 322.5,471.1 323.6,471.9 324.6,473.2 325.7,474.7 326.8,475.1 327.8,476.4 328.9,477.4 329.9,478.4 331.0,479.4 332.0,479.5 333.0,481.3 334.0,481.9 335.0,483.0 336.0,484.3 337.0,484.4 337.9,484.7 338.9,485.1 339.8,485.3 340.7,486.2 341.7,485.4 342.6,485.2 343.6,485.4 344.5,485.4 345.5,485.3 346.4,485.5 347.4,485.4 348.3,484.8 349.3,485.5 350.3,486.3 351.3,485.2 352.3,485.2 353.3,485.2 354.3,484.9 355.3,484.9 356.3,484.9 357.3,483.9 358.3,484.6 359.2,484.0 360.2,484.5 361.2,484.4 362.2,484.4 363.2,483.3 364.2,484.9 365.2,484.0 366.2,484.5 367.2,483.9 368.2,482.8 369.2,483.6 370.2,483.7 371.1,483.4 372.1,483.4 373.1,482.6 374.1,483.3 375.1,483.1 376.0,483.7 377.0,482.8 378.0,483.0 379.0,482.8 380.0,483.4 381.0,482.7 381.9,482.5 382.9,481.9 383.9,482.5 384.9,482.2 385.9,483.0 386.8,482.0 387.8,482.1 388.8,481.3 389.8,481.8 390.8,481.8 391.8,482.4 392.7,481.7 393.7,482.4 394.7,481.6 395.7,481.7 396.7,481.6 397.7,481.8 398.7,481.8 399.6,481.6 400.6,482.3 401.6,481.3 402.6,481.6 403.6,481.2 404.6,480.8 405.6,481.3 406.5,481.8 407.5,481.2 408.5,481.3 409.5,480.9 410.6,480.7 411.6,480.1 412.7,480.0 413.8,480.3 414.9,478.6 416.0,477.6 417.0,477.5 418.0,477.4 419.0,478.2 420.0,477.6 421.0,477.6 422.0,477.6 423.0,477.6 424.0,477.3 425.0,476.6 426.1,478.6 427.3,481.2 428.4,482.1 429.4,482.0 430.5,480.9 431.5,480.9 432.6,479.6 433.8,479.2 434.9,478.8 436.0,478.7 437.0,477.8 438.0,477.1 439.0,476.6 440.0,476.1 441.0,475.7 442.2,477.9 443.5,480.0 444.5,481.3 445.5,483.0 446.5,484.3 447.5,484.4 448.5,485.0 449.4,484.4 450.4,484.5 451.4,484.3 452.4,484.3 453.3,485.2 454.3,483.5 455.3,484.0 456.3,484.1 457.2,484.8 458.2,484.1 459.2,484.9 460.2,483.3 461.2,483.3 462.1,483.8 463.1,484.8 464.1,483.8 465.1,484.0 466.0,483.8 467.0,483.7 468.0,483.9 469.0,483.9 470.0,483.1 471.0,482.8 472.0,483.0 473.0,483.5 474.0,483.7 475.0,483.4 476.0,483.5 477.0,482.8 478.0,483.4 479.0,483.6 480.0,483.6 481.0,483.6 482.0,483.6 483.0,484.0 484.0,483.5 485.0,483.3 486.0,483.4 487.0,482.5 488.0,482.7 489.0,482.3 490.0,483.2 491.0,483.2 492.0,483.2 493.0,483.8 494.0,482.9 495.1,482.8 496.1,482.8 497.1,482.8 498.1,482.6 499.1,482.8 500.1,482.8 501.2,482.5 502.2,483.2 503.2,482.4 504.2,482.2 505.2,481.3 506.2,482.2 507.3,482.3 508.3,482.1 509.3,482.0 510.3,481.5 511.3,481.3 512.2,482.0 513.2,482.0 514.2,481.9 515.2,482.1 516.2,482.2 517.2,482.3 518.1,481.9 519.1,482.1 520.1,482.0 521.1,482.3 522.1,481.5 523.1,482.3 524.0,482.2 525.0,482.8 526.0,482.3 527.0,482.1 528.0,482.3 529.0,482.0 530.0,481.9 531.0,482.1 532.0,480.9 533.0,481.9 534.0,481.0 535.0,481.6 536.0,481.9 537.0,482.6 538.0,481.5 539.0,481.4 540.0,481.4 541.0,480.6 542.0,481.4 543.0,481.9 544.0,481.2 545.0,480.3 546.0,480.4 547.0,481.0 548.0,481.3 549.0,480.9 550.0,480.3 551.0,481.0 552.0,480.8 553.0,480.9 554.0,480.8 555.0,481.2 556.0,481.7 557.0,481.0 558.0,481.0 559.0,481.0 560.0,480.9 561.0,481.0 562.0,480.9 563.0,481.1 564.0,481.1 565.0,480.9 566.0,480.9 567.0,480.8 568.0,480.9 569.0,480.9 570.0,482.0 571.0,481.0 572.0,480.8 573.0,480.7 573.9,479.8 574.9,480.1 575.9,479.8 576.8,479.8 577.8,479.4 578.8,478.9 579.8,479.2 580.8,478.6 581.9,479.8 582.9,480.2 584.0,480.2 585.0,480.6 586.0,480.6 587.0,480.7 588.0,481.6 589.0,480.8 590.0,481.7 591.0,480.9 592.0,481.9 593.0,481.0 594.0,480.8 595.0,480.8 596.0,480.7 597.0,480.9 598.0,480.5 599.0,481.1 600.0,480.0 601.0,480.4 602.0,481.3 603.0,480.6 604.0,480.6 605.0,480.4 606.0,480.9 607.0,480.9 608.0,479.4 609.0,479.3 610.0,480.1 611.0,480.1 612.0,479.3 613.0,480.1 614.0,479.9 615.0,479.4 616.0,480.0 617.0,480.0 618.0,480.0 619.0,479.6 620.0,479.8 621.0,479.6 622.0,479.7 623.0,479.4 624.0,479.7 625.0,479.4 626.0,479.3 627.0,479.5 628.0,479.2 629.0,479.1 630.0,479.0 631.0,478.9 632.0,478.9 633.0,478.8 634.0,478.9 635.0,478.8 636.0,478.6 637.0,478.6 638.0,478.1 639.0,477.6 640.0,477.9 641.0,477.0 642.0,475.7 643.0,476.1 644.0,476.6 645.0,476.6 646.0,476.9 647.0,477.2 648.0,478.4 649.1,478.8 650.2,478.5 651.4,479.1 652.5,479.8 653.5,480.5 654.5,479.6 655.4,479.6 656.4,480.4 657.4,479.5 658.4,479.7 659.4,480.2 660.4,479.5 661.3,480.2 662.3,479.5 663.3,478.5 664.3,479.4 665.3,479.4 666.2,479.4 667.2,479.2 668.2,480.1 669.2,479.2 670.2,479.2 671.2,479.3 672.1,479.2 673.1,479.3 674.1,479.1 675.1,480.0 676.1,479.1 677.1,478.4 678.0,478.9 679.0,478.9 680.0,479.0 681.0,478.0 682.0,478.6 683.0,478.4 684.0,478.2 685.0,478.3 686.0,478.0 687.0,478.0 688.0,478.4 689.0,477.6 690.0,477.4 691.0,477.2 692.0,477.2 693.0,476.4 694.0,476.8 695.0,476.6 696.0,476.5 697.0,477.1 698.0,475.7 699.0,476.1 700.0,475.9 701.0,476.0 702.0,476.0 703.0,476.0 704.0,475.8 705.0,475.7 706.0,475.0 707.0,474.9 708.0,475.7 709.0,475.5 710.0,476.1 711.0,474.7 712.0,475.3 713.0,475.4 714.0,475.2 715.0,474.3 716.0,474.0 717.0,474.5 718.0,474.1 719.0,473.7 720.0,472.8 721.0,473.0 722.0,473.5 723.0,472.6 724.0,471.4 725.0,471.8 726.0,471.4 727.0,472.6 728.0,471.9 729.0,472.8 730.0,473.5 731.0,474.0 732.0,474.3 733.0,475.9 734.0,476.1 735.0,477.1 736.0,477.8 737.0,479.2 738.0,479.1 739.0,480.0 740.2,480.9 741.5,481.4 742.4,479.9 743.2,478.5 744.6,470.5 745.2,461.5 746.1,421.4 746.9,381.2 747.1,381.2 748.0,401.3 748.8,421.4 750.0,461.5 750.8,478.8 752.0,483.6 752.9,484.1 753.8,484.6 754.8,484.6 755.8,485.5 756.8,484.8 757.8,484.6 758.8,484.8 759.8,484.6 760.8,485.7 761.8,484.8 762.9,484.7 763.9,484.8 764.9,485.5 765.9,484.9 766.9,484.6 767.9,485.6 768.9,484.7 769.9,485.5 771.0,484.9 772.0,485.4 773.0,483.9 774.0,484.7 775.0,484.7 776.0,484.7 777.0,484.7 778.0,484.6 779.0,484.6 780.0,484.5 781.0,484.7 782.0,485.5 783.0,485.3 784.0,484.6 785.0,484.4 786.0,484.6 787.0,484.7 788.0,483.5 789.0,483.9 790.0,484.6 791.0,484.6 792.0,484.4 793.0,483.5 794.0,484.4 795.0,484.4 796.0,483.5 797.0,484.3 798.0,483.6 799.0,484.9 800.0,484.9 801.0,484.1 802.0,484.0 803.0,484.1 804.0,484.1 805.0,484.2 806.0,484.1 807.0,483.8 808.0,483.8 809.0,482.9 810.0,483.8 811.0,484.4 812.0,483.7 813.0,483.8 814.0,483.6 815.0,484.4 816.0,484.4 817.0,483.6 818.0,482.6 819.0,482.5 820.0,483.2 821.0,483.2 822.0,483.3 823.0,483.1 824.0,483.2 825.0,483.1 826.0,483.1 827.0,482.4 828.0,482.9 829.0,482.8 830.0,482.9 831.0,482.9 832.0,482.7 833.0,482.8 834.0,481.9 835.0,481.8 836.0,483.3 837.0,482.4 838.0,483.5 839.0,482.3 840.0,482.3 841.0,482.4 842.0,482.5 843.0,482.4 844.0,482.3 845.0,481.4 846.0,481.5 847.0,481.9 848.0,482.6 849.0,482.2 850.0,482.9 851.0,482.1 852.0,481.8 853.0,481.3 854.0,481.7 855.0,481.8 856.0,481.9 857.0,482.7 858.0,481.7 859.0,482.5 860.0,481.7 861.0,481.6 862.0,481.8 863.0,481.6 864.0,482.5 865.0,481.5 866.0,481.5 867.0,480.7 868.0,482.2 869.1,481.5 870.2,479.9 871.4,479.3 872.5,478.6 873.6,479.4 874.8,479.8 875.9,480.9 877.0,481.5 878.0,482.4 879.0,481.8 880.0,481.9 881.0,481.8 882.0,481.0 883.0,481.8 884.0,481.4 885.0,481.6 886.0,482.4 887.0,482.3 888.0,481.6 889.0,481.3 890.0,480.7 891.0,481.3 892.0,480.6 893.0,481.1 894.0,481.4 895.0,481.2 896.0,481.0 897.0,481.2 898.0,481.1 899.0,481.0 900.0,480.9 901.0,480.9 902.0,480.9 903.0,480.8 904.0,479.9 905.0,480.7 906.0,479.8 907.0,480.7 908.0,481.6 909.0,480.8 910.0,481.6 911.0,481.5 912.0,480.7 913.0,480.5 914.0,480.6 915.0,480.4 916.0,480.4 917.0,479.7 918.0,480.9 919.0,480.3 920.0,480.4 921.0,480.4 922.0,480.0 923.0,480.3 924.0,480.2 925.0,479.9 926.0,479.9 927.0,480.0 928.0,479.9 929.0,480.1 930.0,479.8 931.0,479.8 932.0,479.8 933.0,480.0 934.0,479.8 935.0,479.6 936.0,479.8 937.0,479.5 938.0,479.6 939.0,479.6 940.0,479.6 941.0,479.6 942.0,478.5 943.0,479.3 944.0,479.8 945.0,479.1 946.0,478.0 947.0,478.9 948.0,478.7 949.0,479.1 950.0,478.3 951.0,478.4 952.0,479.0 953.0,478.8 954.0,477.9 955.0,477.8 956.0,477.2 957.0,477.7 958.0,476.6 959.0,477.9 960.0,478.5 961.0,478.8 962.0,479.1 963.0,479.8 964.0,479.2 965.1,482.1 966.2,484.5 967.4,487.7 968.5,489.2 969.4,490.4 970.3,492.0 971.7,493.4 972.5,495.0 973.2,494.3 974.0,494.7 974.7,494.0 976.1,490.4 977.0,487.4 978.0,483.6 979.0,480.3 980.0,477.0 980.8,439.4 981.6,401.8 982.5,326.5 983.0,326.5 983.4,401.8 984.3,477.0 984.9,498.4 985.8,509.2 986.6,511.3 987.5,513.1 988.2,513.7 989.0,513.6 990.0,513.9 991.0,513.7 992.0,513.6 993.0,514.7 994.0,512.8 995.0,513.1 996.0,513.9 997.0,513.7 998.0,513.7 999.0,513.6 1000.0,513.8 1001.0,514.4 1002.0,514.3 1003.0,513.8 1004.0,513.7 1005.0,514.6 1006.0,513.7 1007.0,514.4 1008.0,513.7 1009.0,513.8 1010.0,513.6 1011.0,513.8 1012.0,513.1 1013.0,513.8 1014.0,513.8 1015.0,513.8 1016.0,514.5 1017.0,513.9 1018.0,513.9 1019.0,513.1 1020.0,513.7 1021.0,513.7 1022.0,513.8 1023.0,513.7 1024.0,513.7 1025.0,513.6 1026.0,513.8 1027.0,513.6 1028.0,513.7 1029.0,513.8 1030.0,513.9 1031.0,513.8 1032.0,513.7 1033.0,513.8 1034.0,513.6 1035.0,513.6 1036.0,513.9 1037.0,513.7 1038.0,512.9 1039.0,514.5 1040.0,513.7 1041.0,513.9 1042.0,513.1 1043.0,513.7 1044.0,513.9 1045.0,513.8 1046.0,514.7 1047.0,513.9 1048.0,513.7 1049.0,514.6 1050.0,513.8 1051.0,513.8 1052.0,512.8 1052.9,513.5 1053.9,513.6 1054.9,513.6 1055.9,513.6 1056.8,514.6 1057.8,513.4 1058.8,513.4 1059.8,513.4 1060.8,512.9 1061.7,514.1 1062.7,513.3 1063.7,512.8 1064.7,513.6 1065.6,513.3 1066.6,513.3 1067.6,513.5 1068.6,513.3 1069.5,512.6 1070.5,513.1 1071.5,512.5 1072.5,513.2 1073.5,513.0 1074.5,512.2 1075.5,513.1 1076.5,513.2 1077.5,512.0 1078.5,513.0 1079.5,512.9 1080.5,512.7 1081.5,512.7 1082.5,512.6 1083.5,512.5 1084.5,512.5 1085.5,512.5 1086.5,512.7 1087.5,512.5 1088.5,512.4 1089.5,512.5 1090.5,513.2 1091.5,513.0 1092.5,512.2 1093.5,512.0 1094.5,512.0 1095.5,511.3 1096.5,511.9 1097.5,512.5 1098.4,511.8 1099.3,512.9 1100.3,512.8 1101.2,511.9 1102.2,512.0 1102.9,511.1 1103.7,510.0 1105.0,504.1 1106.0,497.8 1107.2,498.2 1108.2,504.8 1109.5,511.4 1110.2,513.5 1111.0,513.2 1112.0,513.9 1113.0,513.8 1114.0,514.4 1115.0,513.7 1116.0,513.7 1117.0,514.4 1118.0,513.6 1119.0,513.6 1120.0,513.6 1121.0,513.8 1122.0,513.0 1123.0,513.9 1124.0,513.6 1125.0,513.8 1126.0,513.7 1127.0,513.0 1128.0,513.8 1129.0,513.8 1130.0,513.9 1131.0,513.7 1132.0,513.6 1133.0,513.6 1134.1,513.7 1135.1,513.7 1136.1,513.6 1137.1,513.6 1138.1,513.6 1139.1,513.7 1140.2,513.8 1141.2,513.7 1142.2,513.6 1143.2,513.7 1144.2,513.7 1145.2,513.6 1146.2,514.5 1147.3,513.8 1148.3,513.8 1149.3,513.7 1150.3,513.8 1151.0,512.6 1151.8,511.5 1153.1,505.1 1154.1,498.8 1155.3,498.8 1156.3,505.8 1157.6,513.0 1158.4,515.2 1159.1,515.3 1160.1,515.3 1161.1,515.4 1162.1,514.7 1163.1,515.6 1164.1,515.6 1165.1,515.4 1166.1,515.5 1167.1,515.6 1168.1,515.6 1169.1,515.6 1170.1,516.1 1171.1,515.6 1172.0,515.4 1173.0,515.5 1174.0,515.3 1175.0,515.5 1176.0,515.6 1177.0,515.5 1178.0,515.5 1179.0,516.1 1180.0,515.3 1181.0,516.2 1182.0,515.5 1183.0,515.4 1184.0,515.1 1184.9,514.9 1185.8,514.7 1186.8,514.5 1187.8,514.2 1188.8,514.7 1189.8,515.9 1190.9,514.5 1191.9,515.5 1193.0,515.7 1194.0,516.3 1195.0,516.3 1196.0,517.2 1197.0,516.2 1198.0,516.1 1199.0,516.4 1200.0,515.4 1201.0,516.3 1202.0,517.2 1203.0,516.3 1204.0,515.4 1205.0,516.4 1206.0,516.1 1207.0,516.1 1208.0,516.3 1209.0,516.1 1210.0,517.2 1211.0,516.4 1212.0,516.2 1213.0,516.2 1214.0,516.2 1215.0,515.6 1216.0,516.4 1217.0,516.3 1218.0,516.9 1219.0,516.3 1220.0,515.9 1220.9,515.8 1221.8,515.5 1222.8,515.3 1223.8,514.9 1224.7,514.9 1225.7,514.3 1226.6,515.0 1227.5,513.0 1228.5,514.7 1229.6,514.1 1230.7,515.1 1231.8,515.0 1232.8,514.7 1233.9,515.1 1235.0,516.4 1236.0,516.3 1237.1,517.0 1238.1,516.5 1239.1,516.7 1240.2,516.6 1241.2,516.7 1242.2,517.7 1243.2,516.9 1244.3,516.9 1245.3,516.5 1246.3,517.1 1247.4,517.3 1248.4,517.2 1249.4,517.5 1250.5,517.5 1251.5,517.6"/>
<polyline stroke="#0000ff" stroke-width="5.7" points="116.0,622.1 117.0,622.8 118.0,623.9 119.0,622.9 120.0,622.9 121.0,622.3 122.0,622.7 123.0,622.8 124.0,622.8 125.0,623.0 126.0,623.0 127.0,623.0 128.0,622.8 129.0,622.7 130.0,623.0 131.0,623.0 132.0,622.6 133.0,622.9 134.0,622.9 135.0,623.6 136.0,622.6 137.0,622.9 138.0,622.0 139.0,622.7 140.0,622.8 141.0,622.1 142.0,622.6 143.1,622.4 144.1,622.5 145.1,622.2 146.1,622.4 147.2,622.1 148.2,622.3 149.2,621.5 150.2,622.9 151.2,622.2 152.3,622.1 153.3,622.5 154.3,622.7 155.3,621.8 156.4,620.7 157.4,621.5 158.4,621.4 159.4,621.4 160.5,621.3 161.5,621.5 162.5,621.2 163.5,620.6 164.5,620.3 165.5,621.1 166.4,621.0 167.4,620.7 168.4,620.8 169.4,620.9 170.4,620.1 171.4,620.5 172.4,620.5 173.4,620.7 174.3,620.3 175.3,620.3 176.3,619.6 177.3,620.2 178.3,620.1 179.3,621.1 180.3,620.2 181.2,619.8 182.2,619.9 183.2,619.9 184.2,619.7 185.2,619.7 186.2,619.6 187.2,619.5 188.2,619.7 189.1,619.4 190.1,619.6 191.1,619.4 192.1,620.2 193.1,620.0 194.1,618.3 195.1,619.1 196.1,619.0 197.0,618.8 198.0,619.4 199.0,618.9 200.0,618.8 201.0,618.6 202.0,618.5 203.0,618.6 204.0,618.5 205.0,617.6 206.0,619.1 207.0,618.8 208.0,618.4 209.0,618.1 210.0,618.7 211.0,617.9 212.0,618.8 213.0,617.7 214.0,617.9 215.0,617.9 216.0,617.7 217.0,617.6 218.0,617.5 219.0,617.4 220.0,616.7 221.0,616.6 222.0,617.1 223.0,616.9 224.0,617.6 225.0,617.8 226.0,616.8 227.0,616.7 228.0,615.8 229.0,616.4 230.0,616.4 231.0,616.2 232.0,616.3 233.0,616.0 234.0,616.9 235.0,615.8 236.0,615.8 237.0,615.5 238.0,615.3 239.0,615.4 240.0,615.0 241.0,615.2 242.0,614.9 243.0,614.0 244.0,614.8 245.0,615.5 246.0,614.3 247.0,614.4 248.0,614.4 249.0,614.3 250.0,614.8 251.0,614.0 252.0,613.7 253.0,613.7 254.0,613.8 255.0,613.4 256.0,614.2 257.0,613.3 258.0,613.2 259.0,613.1 260.0,613.1 261.0,613.1 262.0,612.9 263.0,612.7 264.0,612.5 265.0,612.6 266.0,612.5 267.0,612.5 268.0,612.4 269.0,612.3 270.0,612.1 271.0,611.5 271.9,611.3 272.9,611.9 273.9,611.9 274.9,611.6 275.9,610.9 276.8,611.2 277.8,611.5 278.7,610.9 279.6,610.4 280.6,611.1 281.5,609.8 282.4,609.4 283.3,608.9 284.3,608.7 285.3,608.7 286.4,608.0 287.4,608.5 288.4,608.3 289.4,608.1 290.4,607.5 291.5,607.9 292.5,607.7 293.5,607.2 294.6,607.5 295.8,607.0 296.9,607.0 298.0,606.7 299.0,606.1 300.0,605.9 301.0,605.2 302.0,605.2 302.9,605.5 303.9,606.0 304.8,605.8 305.8,607.0 306.7,607.6 307.6,607.7 308.5,608.3 309.4,608.7 310.4,609.0 311.3,609.3 312.2,609.6 313.1,609.0 314.1,609.7 315.0,609.6 316.0,608.9 316.9,609.2 317.9,607.7 319.0,603.5 320.1,601.9 321.3,600.1 322.4,598.2 323.3,598.9 324.1,599.5 325.0,600.3 326.0,602.0 326.9,603.4 327.9,605.7 328.8,607.5 329.7,608.0 330.7,609.6 331.6,611.4 332.5,612.8 333.4,613.8 334.3,615.6 335.2,615.8 336.2,616.7 337.1,617.8 338.0,618.8 339.0,618.5 340.0,619.4 341.1,618.3 342.1,618.3 343.1,617.7 344.1,618.1 345.1,618.2 346.2,617.9 347.2,617.9 348.2,617.7 349.2,617.6 350.1,616.8 351.1,617.5 352.1,617.4 353.1,617.0 354.1,616.8 355.0,616.0 356.0,616.5 357.0,616.8 358.0,616.8 359.0,615.7 360.0,616.7 361.0,616.5 362.0,616.5 363.0,616.0 364.0,616.4 365.0,616.7 366.0,616.6 367.0,616.5 368.0,615.8 369.0,616.6 370.0,615.8 371.0,616.4 371.9,616.2 372.9,616.2 373.9,616.0 374.9,616.6 375.8,615.5 376.8,615.5 377.8,615.6 378.8,615.2 379.7,615.2 380.7,614.3 381.7,615.0 382.6,614.0 383.6,614.8 384.6,615.2 385.6,614.5 386.5,615.0 387.5,614.3 388.5,614.3 389.5,614.3 390.4,614.1 391.4,614.1 392.4,613.8 393.4,613.2 394.4,613.8 395.3,613.8 396.3,613.1 397.3,614.7 398.3,612.9 399.2,613.7 400.2,613.5 401.2,613.8 402.2,614.5 403.2,613.7 404.1,612.9 405.1,613.3 406.1,613.6 407.1,613.2 408.1,613.2 409.0,613.5 410.0,613.4 411.0,613.3 412.0,611.6 413.0,611.0 414.0,610.3 415.0,609.3 416.1,608.5 417.1,608.5 418.1,609.4 419.2,608.6 420.2,608.4 421.3,608.2 422.4,608.3 423.4,608.3 424.4,607.3 425.5,608.2 426.5,609.5 427.5,611.0 428.6,612.8 429.8,614.7 430.9,613.0 432.0,611.0 432.8,610.1 433.5,609.6 434.6,609.6 435.8,609.3 436.9,609.2 438.0,609.1 438.8,608.4 439.5,606.1 440.2,603.9 441.0,603.7 441.9,605.2 442.8,607.0 444.0,615.0 445.0,620.6 446.0,620.5 447.0,620.4 448.0,620.5 449.0,620.2 450.1,620.0 451.1,620.6 452.1,620.0 453.2,620.0 454.2,619.9 455.2,620.0 456.3,620.4 457.3,619.7 458.4,619.8 459.4,619.5 460.4,620.3 461.5,619.0 462.5,618.8 463.5,619.5 464.5,619.3 465.5,619.4 466.5,619.3 467.5,620.0 468.5,619.2 469.5,618.9 470.5,619.0 471.5,618.8 472.5,618.6 473.5,618.4 474.5,618.6 475.5,618.4 476.5,619.0 477.5,618.5 478.5,618.2 479.5,618.1 480.5,618.2 481.5,617.9 482.5,618.0 483.5,618.5 484.5,617.8 485.5,617.7 486.5,617.7 487.5,617.7 488.5,617.6 489.4,617.4 490.4,617.5 491.4,617.5 492.4,617.3 493.3,617.2 494.3,617.2 495.3,617.8 496.2,616.4 497.2,618.1 498.2,617.1 499.2,616.6 500.1,616.5 501.1,616.9 502.1,617.0 503.1,616.3 504.0,616.3 505.0,616.9 506.0,616.6 506.9,616.7 507.9,616.4 508.9,616.0 509.9,616.8 510.8,616.2 511.8,615.3 512.8,615.2 513.8,615.1 514.8,615.0 515.8,616.2 516.8,615.7 517.9,615.6 518.9,615.1 519.9,616.3 521.0,616.3 522.0,616.5 523.0,616.5 523.9,616.6 524.9,616.8 525.9,617.1 526.8,616.9 527.8,617.0 528.8,617.1 529.8,617.4 530.7,616.7 531.7,616.8 532.7,618.2 533.6,617.9 534.6,617.7 535.6,617.9 536.5,618.0 537.5,618.2 538.5,618.1 539.5,618.9 540.5,618.8 541.5,618.2 542.5,618.0 543.5,617.7 544.5,617.6 545.5,617.9 546.5,618.6 547.5,617.6 548.5,617.5 549.5,617.5 550.5,617.5 551.5,617.4 552.5,617.9 553.5,617.0 554.5,617.2 555.5,617.2 556.5,616.9 557.5,616.7 558.5,616.8 559.5,616.8 560.5,615.8 561.5,616.4 562.5,615.8 563.4,617.2 564.4,616.2 565.3,616.0 566.2,616.1 567.2,616.0 568.1,615.8 569.1,615.6 570.0,615.6 571.0,615.1 572.0,615.1 573.0,614.9 574.0,614.5 575.0,614.1 576.0,614.3 577.0,614.6 578.0,615.6 579.0,615.1 580.0,615.2 581.0,615.7 582.1,615.8 583.2,616.4 584.2,616.9 585.3,617.2 586.4,616.9 587.5,617.9 588.5,618.3 589.4,619.2 590.4,618.2 591.4,618.5 592.4,618.2 593.3,618.5 594.3,618.7 595.3,618.8 596.2,618.7 597.2,618.8 598.2,618.8 599.2,619.0 600.1,618.5 601.1,619.1 602.1,619.1 603.1,619.4 604.0,619.4 605.0,619.4 606.0,619.3 607.0,619.1 608.0,619.1 609.0,618.9 610.0,618.8 611.0,618.4 612.0,618.4 613.0,618.2 614.0,618.1 615.0,617.8 616.0,617.7 617.0,617.5 618.0,618.2 619.0,617.4 620.0,617.0 621.0,616.9 622.0,616.7 623.0,616.7 624.0,616.5 625.0,616.2 626.0,616.0 627.0,616.7 628.0,615.2 629.0,615.5 630.0,615.2 631.0,615.2 632.0,615.9 633.0,614.1 634.0,614.7 635.0,614.5 636.0,614.9 637.0,613.7 638.0,613.4 639.0,613.3 640.0,612.9 641.0,612.4 642.0,612.2 643.0,611.7 644.0,610.6 645.0,611.3 645.9,611.7 646.8,613.0 647.6,612.7 648.5,612.8 649.5,614.5 650.5,616.3 651.5,617.8 652.5,618.7 653.5,619.5 654.5,618.8 655.5,619.5 656.5,619.8 657.5,620.3 658.5,619.7 659.5,619.6 660.5,619.7 661.5,619.9 662.5,619.8 663.5,619.8 664.5,619.7 665.5,619.8 666.5,620.0 667.5,620.1 668.5,619.8 669.6,619.7 670.6,619.6 671.7,619.5 672.7,619.1 673.8,618.4 674.8,619.1 675.8,618.9 676.9,618.9 677.9,619.5 679.0,617.5 680.0,618.1 681.0,618.1 682.0,617.2 683.0,618.0 684.0,617.9 685.0,617.6 686.0,616.8 687.0,617.6 688.0,616.7 689.0,617.1 690.0,617.2 691.0,617.1 692.0,617.1 693.0,617.8 694.0,616.7 695.0,616.8 696.0,617.2 697.0,616.5 698.0,616.4 699.0,616.1 700.0,615.1 701.0,615.0 702.0,615.7 703.0,615.7 704.0,615.9 705.0,615.7 706.0,615.5 707.0,615.4 708.0,615.5 709.0,615.4 710.0,615.9 711.0,615.1 712.0,615.1 713.0,614.6 714.0,615.0 715.0,614.0 716.0,614.3 717.0,613.9 718.0,613.4 719.0,612.8 720.0,612.0 721.0,610.8 722.0,610.9 722.9,611.4 723.9,610.2 724.8,609.7 725.8,609.6 726.8,610.2 727.9,610.7 728.9,611.7 730.0,612.5 731.0,613.9 732.0,614.2 733.0,614.9 734.0,616.1 735.0,617.1 736.0,618.1 737.0,618.9 738.0,620.0 738.9,620.5 739.8,621.1 740.6,621.9 741.5,621.8 742.4,620.1 743.2,619.5 744.6,611.5 745.2,602.5 746.1,558.2 746.9,514.0 747.1,514.0 748.0,536.1 748.8,558.2 750.0,602.5 750.8,619.2 752.0,624.1 752.9,625.6 753.8,625.1 754.8,625.9 755.8,625.2 756.8,624.3 757.8,625.1 758.8,625.3 759.8,625.1 760.8,625.2 761.8,624.9 762.8,625.1 763.8,625.1 764.9,624.9 765.9,625.0 766.9,624.7 767.9,624.1 768.9,624.9 769.9,624.7 770.9,625.5 771.9,624.5 772.9,624.8 773.9,624.7 775.0,624.5 776.0,624.5 777.0,624.6 778.0,625.4 779.0,624.6 780.0,624.7 781.0,624.5 782.0,624.4 783.0,624.6 784.0,624.5 785.0,624.1 786.0,624.2 787.0,624.3 788.0,624.2 789.0,624.2 790.0,624.0 791.0,624.2 792.0,624.8 793.0,624.2 794.0,624.1 795.0,623.8 796.0,623.7 797.0,623.7 798.0,623.8 799.0,623.7 800.0,623.9 801.0,623.8 802.0,622.7 803.0,623.0 804.0,623.7 805.0,623.4 806.0,622.6 807.0,623.6 808.0,623.3 809.0,622.7 810.0,622.5 811.0,623.2 812.0,623.2 813.0,623.4 814.0,623.1 815.0,623.1 816.0,622.9 817.0,623.0 818.0,622.9 819.0,623.1 820.0,622.4 821.0,623.0 822.0,622.7 823.0,622.7 824.0,622.8 825.0,622.7 826.0,622.8 827.0,622.7 828.0,622.7 829.0,622.5 830.0,622.6 831.0,622.6 832.0,622.3 833.0,622.6 834.1,622.3 835.1,622.3 836.1,621.6 837.1,622.1 838.1,622.2 839.1,622.1 840.2,622.3 841.2,622.1 842.2,623.0 843.2,622.3 844.2,622.2 845.2,622.0 846.2,622.1 847.3,622.7 848.3,622.1 849.3,623.0 850.3,621.9 851.3,621.9 852.3,622.2 853.4,621.9 854.4,621.8 855.4,621.9 856.4,622.0 857.4,621.9 858.4,621.7 859.5,622.4 860.5,621.7 861.5,622.3 862.5,621.6 863.4,621.5 864.3,622.3 865.2,621.6 866.2,621.8 867.1,621.7 868.0,622.0 869.0,620.6 870.0,619.9 871.0,619.0 872.0,618.0 873.0,618.7 874.0,619.7 875.0,620.6 876.0,621.5 876.9,621.6 877.8,622.2 878.8,622.7 879.8,621.8 880.8,621.5 881.8,621.4 882.8,623.1 883.8,622.2 884.8,622.0 885.8,622.2 886.8,621.9 887.8,621.1 888.8,622.0 889.9,621.8 890.9,621.9 891.9,620.8 892.9,620.8 893.9,621.6 894.9,621.4 895.9,621.5 896.9,620.4 897.9,621.2 898.9,621.1 900.0,620.2 901.0,620.2 902.0,621.1 903.0,621.9 904.0,620.7 905.0,620.6 906.0,619.8 907.0,620.5 908.0,620.8 909.0,620.5 910.0,620.5 911.0,620.0 912.0,620.4 913.0,620.6 914.0,620.5 915.0,620.5 916.0,620.2 917.0,620.5 918.0,620.2 919.0,620.4 920.0,620.1 921.0,620.2 922.0,620.7 923.0,620.4 924.0,620.3 925.0,620.8 926.0,619.4 927.0,619.9 928.0,620.0 929.0,620.2 930.0,620.0 931.0,620.2 932.1,620.2 933.1,620.1 934.2,619.8 935.2,620.5 936.2,620.5 937.3,620.7 938.3,620.5 939.4,620.9 940.4,620.9 941.5,620.7 942.5,620.1 943.4,620.7 944.4,620.6 945.3,620.6 946.2,620.1 947.2,620.2 948.1,619.3 949.1,618.9 950.0,619.4 950.9,619.4 951.9,619.2 952.8,619.5 953.8,618.5 954.7,618.3 955.6,618.5 956.6,617.9 957.5,617.5 958.4,618.8 959.3,618.5 960.2,618.8 961.2,619.6 962.1,620.1 963.0,620.5 964.0,622.7 965.0,624.9 966.0,626.7 967.0,628.0 968.0,631.7 969.1,632.5 970.3,634.9 971.7,636.0 972.5,636.4 973.2,636.5 974.0,636.4 974.7,635.7 976.1,634.2 977.0,629.6 978.0,625.6 979.0,622.3 980.0,619.0 980.8,577.1 981.6,535.2 982.5,451.5 983.0,451.5 983.4,535.2 984.3,619.0 984.9,641.2 985.8,653.0 986.6,655.2 987.5,656.9 988.2,657.1 989.0,657.6 990.0,658.3 991.0,657.3 992.0,657.6 993.0,657.5 994.0,657.5 995.0,657.4 996.0,658.3 997.0,656.8 998.1,656.6 999.1,657.4 1000.1,657.4 1001.1,657.5 1002.1,657.2 1003.1,657.5 1004.1,657.3 1005.1,657.5 1006.1,658.3 1007.1,657.3 1008.1,657.6 1009.1,656.4 1010.1,657.3 1011.1,656.6 1012.1,656.8 1013.1,657.2 1014.2,657.5 1015.2,658.2 1016.2,657.3 1017.2,657.3 1018.2,657.1 1019.2,657.3 1020.2,656.6 1021.2,657.4 1022.2,657.2 1023.2,657.2 1024.2,657.4 1025.2,658.2 1026.2,656.7 1027.2,657.1 1028.2,657.1 1029.2,657.3 1030.2,657.3 1031.3,657.4 1032.3,657.1 1033.3,657.3 1034.3,657.4 1035.3,656.3 1036.3,657.2 1037.3,657.2 1038.3,657.7 1039.3,657.0 1040.3,657.1 1041.3,658.1 1042.3,657.0 1043.3,657.3 1044.3,657.0 1045.3,657.0 1046.3,657.0 1047.4,657.0 1048.4,657.1 1049.4,657.3 1050.4,656.5 1051.4,656.9 1052.4,657.2 1053.4,657.3 1054.4,657.2 1055.4,657.3 1056.4,657.1 1057.4,657.1 1058.4,657.8 1059.4,656.9 1060.4,656.9 1061.4,657.1 1062.4,657.2 1063.5,657.0 1064.5,657.0 1065.5,657.1 1066.5,658.0 1067.5,656.9 1068.5,657.0 1069.5,656.9 1070.5,657.1 1071.5,656.9 1072.5,656.9 1073.5,656.8 1074.5,656.7 1075.5,657.7 1076.5,656.9 1077.5,656.6 1078.5,656.8 1079.5,655.8 1080.5,656.5 1081.5,657.3 1082.5,656.3 1083.5,656.4 1084.5,656.4 1085.5,656.1 1086.5,655.7 1087.5,656.3 1088.5,656.9 1089.5,656.1 1090.5,656.0 1091.5,655.8 1092.5,655.8 1093.5,655.9 1094.5,655.9 1095.5,655.8 1096.5,655.6 1097.5,655.9 1098.4,655.7 1099.3,655.6 1100.3,655.1 1101.2,655.6 1102.2,655.9 1102.9,654.6 1103.7,653.4 1105.0,646.8 1106.0,640.3 1107.2,640.2 1108.2,647.4 1109.5,654.7 1110.2,657.0 1111.0,657.2 1112.0,657.3 1113.0,657.1 1114.0,657.3 1115.0,657.4 1116.0,657.3 1117.0,657.4 1118.0,657.2 1119.0,657.1 1120.0,656.3 1121.0,657.2 1122.0,657.3 1123.0,657.1 1124.0,657.2 1125.0,657.1 1126.0,657.2 1127.0,657.2 1128.0,657.3 1129.0,657.4 1130.0,657.1 1131.0,657.4 1132.0,658.0 1133.0,657.2 1134.1,657.9 1135.1,656.7 1136.1,657.1 1137.1,657.2 1138.1,657.4 1139.1,657.4 1140.2,657.2 1141.2,657.2 1142.2,657.3 1143.2,657.3 1144.2,657.7 1145.2,657.4 1146.2,657.3 1147.3,657.8 1148.3,657.1 1149.3,657.3 1150.3,657.3 1151.0,656.9 1151.8,654.7 1153.1,647.4 1154.1,640.2 1155.3,640.2 1156.3,647.8 1157.6,655.5 1158.4,656.9 1159.1,657.4 1160.1,658.2 1161.1,658.4 1162.1,658.2 1163.1,657.4 1164.1,658.0 1165.1,658.2 1166.1,657.9 1167.1,658.6 1168.1,657.8 1169.1,658.0 1170.0,657.8 1171.0,657.9 1172.0,657.7 1173.0,657.8 1174.0,657.6 1175.0,656.8 1176.0,657.5 1177.0,658.3 1178.0,658.1 1179.0,657.5 1180.0,657.4 1181.0,657.9 1182.0,656.3 1183.0,656.6 1184.0,656.5 1185.1,656.2 1186.2,655.9 1187.4,655.3 1188.5,654.8 1189.4,655.7 1190.2,656.5 1191.1,657.4 1192.0,658.6 1193.0,658.6 1194.0,659.2 1195.0,660.0 1196.0,660.0 1197.0,660.1 1198.0,660.7 1199.0,659.7 1200.0,659.9 1201.0,660.0 1202.0,659.9 1203.0,660.0 1204.0,660.5 1205.0,659.9 1206.0,658.9 1207.0,659.7 1208.0,659.9 1209.0,659.6 1210.0,659.1 1211.0,659.5 1212.0,659.7 1213.0,659.7 1214.0,659.4 1215.0,660.3 1216.0,659.7 1217.0,659.4 1218.0,659.4 1219.0,659.6 1220.0,659.2 1221.0,658.9 1222.0,658.8 1223.0,658.7 1224.0,658.1 1225.1,658.0 1226.2,657.6 1227.4,657.3 1228.5,657.0 1229.6,657.4 1230.8,658.1 1231.9,658.6 1233.0,658.5 1234.0,660.3 1235.0,659.8 1236.0,660.0 1237.0,660.1 1238.0,660.3 1239.1,660.2 1240.1,660.6 1241.1,659.8 1242.2,660.8 1243.2,660.9 1244.2,661.0 1245.3,661.1 1246.3,661.2 1247.4,661.4 1248.4,662.5 1249.4,660.9 1250.5,662.8 1251.5,661.3"/>
<polyline stroke="#ff0000" stroke-width="5.7" points="116.0,763.3 117.0,763.4 118.0,763.4 119.0,764.1 120.0,763.0 121.1,763.8 122.1,763.1 123.1,762.9 124.1,763.6 125.1,763.0 126.1,762.8 127.1,762.9 128.1,762.3 129.1,762.0 130.2,763.1 131.2,762.9 132.2,761.8 133.2,762.7 134.2,762.6 135.2,762.1 136.2,762.7 137.2,762.8 138.2,763.6 139.2,762.6 140.3,762.7 141.3,761.6 142.3,762.5 143.3,762.5 144.3,762.6 145.3,762.5 146.3,762.6 147.3,761.4 148.3,762.3 149.4,762.4 150.4,762.2 151.4,762.4 152.4,762.1 153.4,762.1 154.4,762.3 155.4,762.1 156.4,762.2 157.4,762.1 158.5,761.3 159.5,762.0 160.5,762.1 161.5,762.5 162.5,761.9 163.5,762.0 164.5,761.0 165.5,761.7 166.5,761.8 167.5,762.2 168.5,761.5 169.6,761.5 170.6,761.7 171.6,761.6 172.6,761.4 173.6,761.3 174.6,761.2 175.6,762.1 176.6,761.0 177.6,761.2 178.6,761.6 179.6,761.1 180.6,761.0 181.7,760.9 182.7,760.8 183.7,760.7 184.7,760.6 185.7,760.6 186.7,760.6 187.7,760.4 188.7,761.0 189.7,760.2 190.7,760.3 191.7,760.0 192.7,760.2 193.8,760.2 194.8,760.9 195.8,759.9 196.8,759.7 197.8,759.9 198.8,759.8 199.8,759.7 200.8,760.2 201.8,759.6 202.8,759.6 203.8,760.2 204.8,758.5 205.8,760.2 206.9,758.6 207.9,759.1 208.9,759.0 209.9,759.0 210.9,758.3 211.9,758.6 212.9,758.7 213.9,758.6 214.9,758.6 215.9,759.1 216.9,758.5 217.9,758.6 219.0,758.4 220.0,758.4 221.0,758.1 222.0,758.2 223.0,758.3 224.0,758.0 225.0,757.8 226.0,757.2 227.0,757.8 228.0,757.8 229.0,757.5 230.0,757.4 231.0,757.1 232.0,757.3 233.0,756.9 234.0,757.7 235.0,756.8 236.0,757.3 237.0,755.6 238.0,757.1 239.0,756.1 240.0,756.3 241.0,756.0 242.0,756.2 243.0,756.0 244.0,755.9 245.0,754.9 246.0,755.4 247.0,755.4 248.0,755.2 249.0,755.2 250.0,755.8 251.0,754.7 252.0,754.5 253.0,754.6 254.0,754.4 255.0,754.2 256.0,754.1 257.0,753.9 258.0,753.8 259.0,753.6 260.0,753.2 261.0,753.2 262.0,753.0 263.0,752.7 264.0,752.8 265.0,752.5 266.0,752.4 267.0,751.6 268.0,751.2 269.0,752.9 270.0,751.8 271.0,751.0 271.9,751.6 272.9,751.2 273.9,751.3 274.9,750.3 275.9,750.4 276.8,751.6 277.8,750.7 278.8,751.4 279.8,750.9 280.7,750.2 281.7,750.2 282.8,749.6 283.8,749.4 284.9,748.9 285.9,748.6 286.9,747.4 288.0,747.9 288.9,747.1 289.9,747.5 290.8,746.1 291.8,746.3 292.7,745.0 293.7,745.9 294.7,745.4 295.7,745.6 296.7,746.1 297.7,746.5 298.6,745.2 299.6,745.8 300.6,746.6 301.6,747.0 302.6,746.2 303.6,746.3 304.5,746.5 305.4,747.2 306.4,747.2 307.3,747.6 308.2,747.6 309.1,747.9 310.0,748.9 311.0,748.9 311.9,749.1 312.9,749.6 313.8,749.7 314.7,748.8 315.6,749.0 316.5,748.5 317.5,746.3 318.5,745.6 319.5,743.8 320.6,741.8 321.6,739.1 322.6,740.8 323.5,741.9 324.5,742.1 325.6,742.4 326.8,744.6 327.9,746.0 328.8,747.1 329.7,749.0 330.7,749.7 331.6,750.3 332.5,751.3 333.4,753.4 334.4,753.5 335.3,755.2 336.3,757.4 337.2,757.4 338.4,757.9 339.6,758.8 340.6,758.7 341.5,758.4 342.5,758.5 343.4,758.7 344.4,758.4 345.3,758.5 346.3,757.8 347.2,758.2 348.2,758.5 349.2,758.3 350.1,757.3 351.1,757.8 352.1,757.7 353.1,756.6 354.1,757.4 355.0,757.1 356.0,757.8 357.0,757.0 358.0,756.9 359.0,756.9 360.0,757.0 361.0,756.9 362.0,756.8 363.0,756.8 364.0,756.9 365.0,756.5 366.0,756.6 367.0,756.4 368.0,756.7 369.0,755.7 370.0,756.5 371.0,756.4 371.9,756.1 372.9,756.0 373.9,755.3 374.9,756.7 375.8,755.6 376.8,755.7 377.8,754.6 378.8,755.4 379.7,755.5 380.7,755.8 381.7,755.6 382.6,755.2 383.6,754.8 384.6,754.7 385.6,754.7 386.5,754.7 387.5,755.2 388.5,755.0 389.5,753.6 390.4,754.3 391.4,755.0 392.4,753.6 393.4,754.0 394.4,753.9 395.3,754.7 396.3,753.8 397.3,753.8 398.3,753.7 399.2,753.6 400.2,753.2 401.2,753.3 402.2,752.5 403.2,752.5 404.1,753.0 405.1,753.1 406.1,752.9 407.1,752.8 408.1,752.1 409.0,751.8 410.0,751.8 411.0,752.5 412.0,751.3 413.0,750.1 414.2,746.9 415.5,743.3 416.5,744.1 417.5,743.5 418.5,743.3 419.5,742.4 420.4,743.4 421.4,743.2 422.4,743.0 423.4,743.0 424.4,742.2 425.4,743.2 426.2,745.5 427.0,748.0 428.0,752.0 429.0,756.7 430.0,753.0 431.0,750.0 432.2,747.8 433.4,744.9 434.5,744.8 435.6,744.1 436.8,743.8 437.9,743.9 438.7,740.9 439.5,738.0 440.4,735.6 441.4,734.0 442.4,735.5 443.3,738.0 444.5,755.0 445.9,767.0 446.9,766.8 448.0,766.5 449.0,767.4 450.1,767.0 451.1,766.2 452.1,767.2 453.2,766.2 454.2,766.4 455.2,766.0 456.3,765.6 457.3,766.0 458.4,766.0 459.4,765.9 460.4,765.7 461.5,765.8 462.5,765.9 463.5,765.6 464.5,765.5 465.5,765.4 466.5,765.6 467.5,765.2 468.5,765.3 469.5,765.8 470.5,766.1 471.5,764.9 472.5,765.0 473.5,764.7 474.5,764.7 475.5,764.9 476.5,764.5 477.5,764.6 478.5,764.5 479.5,764.3 480.5,764.3 481.5,765.2 482.5,764.2 483.5,763.3 484.5,763.9 485.5,764.1 486.5,763.8 487.5,763.2 488.5,763.6 489.5,764.3 490.5,763.5 491.5,762.7 492.5,763.0 493.5,763.2 494.5,763.1 495.5,762.6 496.5,763.6 497.5,762.6 498.5,762.5 499.5,763.2 500.5,762.4 501.5,762.3 502.5,762.2 503.4,762.0 504.3,761.0 505.2,761.8 506.2,762.1 507.1,762.0 508.0,761.0 509.0,761.7 509.9,760.9 510.9,761.0 511.8,761.2 512.8,761.0 513.8,761.0 514.8,762.4 515.9,760.9 516.9,761.3 518.0,762.7 519.0,762.4 520.0,764.4 521.0,764.3 522.0,765.2 523.0,765.7 524.0,766.4 525.0,766.9 526.0,767.1 527.0,766.3 528.0,767.1 529.0,766.9 530.0,766.9 531.0,767.1 532.0,767.9 533.0,766.2 534.0,767.2 535.0,767.4 536.0,767.4 537.0,767.1 538.0,767.1 539.0,767.4 540.0,767.3 541.0,767.2 542.0,767.5 543.0,767.9 544.0,766.6 545.0,766.8 546.0,767.4 547.0,767.6 548.0,767.3 549.0,768.4 550.0,767.5 551.0,767.2 552.0,767.3 553.0,767.2 554.0,766.1 555.0,766.6 556.0,767.0 557.0,766.3 558.0,766.0 559.0,765.8 560.0,765.9 561.0,765.6 562.0,765.3 563.0,764.8 564.0,765.1 565.0,765.0 566.0,764.9 567.0,764.3 568.0,764.1 569.0,763.8 570.0,763.5 571.0,763.3 572.0,763.1 572.9,762.7 573.8,762.5 574.8,761.4 575.7,762.0 576.6,761.6 577.5,761.4 578.4,762.3 579.3,762.5 580.2,763.3 581.2,764.0 582.1,763.6 583.0,765.1 584.0,765.8 585.0,767.5 586.0,767.7 587.0,768.7 588.0,768.6 589.0,769.8 590.0,771.4 591.0,771.2 592.0,771.4 593.0,771.6 594.0,771.5 595.0,771.5 596.0,772.5 597.0,771.7 598.0,771.8 599.0,772.1 600.0,772.1 601.0,772.7 602.0,772.4 603.0,772.4 604.0,772.3 605.0,772.3 606.0,772.3 607.0,772.3 608.0,772.9 609.0,772.1 610.0,771.9 611.0,771.1 612.0,771.9 613.0,771.7 614.0,771.4 614.9,772.0 615.9,771.4 616.9,771.1 617.9,771.8 618.9,771.0 619.9,770.1 620.9,770.8 621.9,770.5 622.9,770.6 623.9,770.4 624.9,770.6 625.9,770.5 626.9,770.7 628.0,770.6 629.0,770.5 630.0,769.8 631.0,770.6 632.0,770.6 633.0,770.4 634.0,770.2 635.0,770.1 636.0,769.1 637.0,768.4 638.0,767.4 639.0,766.6 640.0,765.8 641.0,765.1 642.1,764.3 643.1,763.6 644.2,763.0 645.3,762.0 646.4,763.2 647.4,764.1 648.5,764.9 649.5,766.9 650.5,769.7 651.4,772.1 652.4,775.4 653.4,775.6 654.4,775.5 655.4,774.4 656.5,775.0 657.5,774.8 658.5,774.7 659.5,774.7 660.5,774.9 661.5,775.9 662.5,775.9 663.6,775.0 664.6,775.8 665.6,776.1 666.6,776.2 667.6,776.7 668.7,777.0 669.7,777.2 670.7,777.4 671.7,778.6 672.7,776.6 673.7,778.3 674.7,777.8 675.7,777.1 676.6,777.0 677.6,776.0 678.6,776.7 679.6,776.7 680.6,776.4 681.6,776.6 682.6,776.5 683.5,776.3 684.5,776.3 685.5,775.9 686.5,775.9 687.5,775.8 688.5,775.6 689.6,775.5 690.6,775.7 691.7,774.8 692.7,776.1 693.8,776.0 694.8,775.4 695.8,775.3 696.9,775.2 697.9,775.3 699.0,775.2 700.0,774.9 701.0,775.0 702.0,775.0 703.0,774.8 704.0,774.6 705.0,774.5 706.0,774.5 707.0,774.2 708.0,774.2 709.0,774.4 710.0,774.0 711.0,774.0 712.0,774.7 713.0,774.1 714.0,773.8 715.0,773.6 716.0,773.1 717.0,773.0 718.0,772.2 719.0,771.9 720.0,771.3 721.0,771.0 722.0,769.6 722.9,770.1 723.9,770.3 724.8,770.0 725.8,768.9 726.8,769.3 727.9,770.6 728.9,770.6 730.0,771.3 731.0,771.8 732.0,773.5 733.0,773.9 734.0,774.6 735.0,776.1 736.0,777.3 737.0,776.4 738.0,777.9 738.9,778.5 739.8,778.9 740.6,779.6 741.5,779.2 742.4,778.3 743.2,777.0 744.6,769.0 745.2,760.0 746.1,722.4 746.9,684.8 747.1,684.8 748.0,703.6 748.8,722.4 750.0,760.0 750.8,777.8 752.0,782.7 752.9,783.1 753.8,783.7 754.8,783.6 755.8,783.8 756.8,783.7 757.8,783.6 758.8,783.7 759.8,783.1 760.8,783.8 761.8,783.6 762.8,783.9 763.8,783.8 764.9,783.9 765.9,784.0 766.9,783.8 767.9,783.7 768.9,783.7 769.9,783.8 770.9,783.7 771.9,784.8 772.9,784.4 773.9,784.0 775.0,784.5 776.0,784.0 777.0,784.1 778.0,784.1 779.0,783.9 780.0,784.1 781.0,783.9 782.0,784.1 783.0,784.0 784.0,783.8 785.0,783.2 786.0,783.7 787.0,784.3 788.0,782.8 789.0,783.6 790.0,783.5 791.0,783.5 792.0,783.6 793.0,783.5 794.0,784.3 795.0,783.6 796.0,782.7 797.0,782.9 798.0,783.5 799.0,783.5 800.0,782.8 801.0,783.5 802.0,783.3 803.0,783.4 804.0,783.1 805.0,784.2 806.0,783.3 807.0,783.2 808.0,783.4 809.0,782.4 810.0,783.2 811.0,783.0 812.0,783.1 813.0,782.9 814.0,783.0 815.0,782.1 816.0,783.1 817.0,782.3 818.0,782.8 819.0,782.7 820.0,782.7 821.0,782.3 822.0,783.6 823.0,782.8 824.0,783.4 825.0,783.6 826.0,783.4 827.0,783.3 828.0,782.5 829.0,782.6 830.0,782.7 831.0,782.6 832.0,782.3 833.0,782.5 834.1,781.7 835.1,782.5 836.1,783.1 837.1,782.4 838.1,781.7 839.1,782.5 840.2,783.1 841.2,782.4 842.2,782.1 843.2,782.2 844.2,782.4 845.2,782.3 846.2,782.8 847.3,781.2 848.3,782.2 849.3,782.1 850.3,782.2 851.3,782.2 852.3,782.0 853.4,782.0 854.4,782.4 855.4,781.8 856.4,781.8 857.4,781.8 858.4,781.8 859.5,782.8 860.5,781.7 861.5,781.7 862.5,780.9 863.4,782.6 864.3,781.6 865.2,781.5 866.2,781.6 867.1,782.1 868.0,781.6 869.0,781.5 870.0,779.9 871.0,779.1 872.0,778.7 873.0,779.7 874.0,779.6 875.0,780.6 876.0,781.7 876.9,782.4 877.8,782.2 878.8,782.9 879.8,782.2 880.8,782.3 881.8,782.1 882.8,781.3 883.8,782.0 884.8,782.8 885.8,781.8 886.8,781.1 887.8,782.1 888.8,781.9 889.9,782.0 890.9,781.7 891.9,781.7 892.9,781.8 893.9,781.7 894.9,781.6 895.9,781.6 896.9,781.0 897.9,781.7 898.9,781.4 900.0,780.6 901.0,781.3 902.0,781.6 903.0,781.4 904.0,781.3 905.0,782.0 906.0,781.1 907.0,781.1 908.0,781.2 909.0,781.1 910.0,781.8 911.0,780.9 912.0,781.0 913.0,781.0 914.0,780.8 915.0,780.8 916.0,780.8 917.0,779.8 918.0,780.4 919.0,780.4 920.0,781.4 921.0,780.4 922.0,780.4 923.0,779.7 924.0,780.3 925.0,780.1 926.0,780.8 927.0,780.1 928.0,779.2 929.0,779.9 930.0,780.2 931.0,779.2 932.0,779.9 933.0,779.9 934.0,779.8 935.0,780.0 936.0,779.8 937.0,779.9 938.0,780.6 939.0,779.8 940.0,779.7 941.0,779.8 942.0,779.6 943.0,779.6 944.0,779.4 945.0,779.6 946.0,779.5 947.1,779.2 948.1,779.0 949.2,778.9 950.2,778.9 951.3,778.7 952.4,778.7 953.4,778.3 954.5,778.3 955.5,778.4 956.4,777.6 957.3,778.0 958.2,779.2 959.2,779.6 960.1,779.7 961.0,779.9 962.0,781.4 963.0,782.0 964.0,784.0 965.0,784.9 966.0,786.1 967.1,787.9 968.3,788.9 969.7,791.0 970.5,791.0 971.2,791.6 972.0,791.4 972.7,791.7 974.1,788.1 975.2,787.1 976.3,784.4 977.4,782.5 978.3,780.6 979.1,778.9 980.0,777.0 980.8,747.1 981.6,717.1 982.5,657.2 983.0,657.2 983.4,717.1 984.3,777.0 984.9,795.6 985.8,803.8 986.6,805.8 987.5,807.9 988.2,808.0 989.0,807.7 990.0,808.1 991.0,809.0 992.0,808.2 993.0,808.1 994.0,808.1 995.0,808.4 996.0,808.1 997.0,808.4 998.0,808.4 999.0,808.1 1000.0,808.1 1001.0,808.1 1002.0,808.3 1003.0,808.2 1004.0,808.2 1005.0,808.8 1006.0,808.1 1007.0,808.1 1008.0,809.2 1009.0,807.5 1010.0,808.4 1011.0,808.1 1012.0,808.1 1013.0,808.8 1014.0,808.3 1015.0,808.2 1016.0,808.4 1017.0,808.1 1018.0,808.4 1019.0,807.7 1020.0,808.3 1021.0,809.2 1022.0,808.1 1023.0,809.2 1024.0,809.2 1025.0,808.2 1026.0,808.9 1027.0,808.8 1028.0,808.1 1029.0,808.2 1030.0,809.2 1031.0,808.4 1032.0,808.4 1033.0,807.6 1034.0,808.2 1035.0,808.4 1036.0,808.1 1037.0,808.2 1038.0,808.2 1039.0,808.2 1040.0,808.2 1041.0,808.3 1042.0,808.1 1043.0,808.2 1044.0,808.3 1045.0,809.1 1046.0,808.2 1047.0,808.4 1048.0,809.1 1049.0,808.2 1050.0,808.3 1051.0,808.2 1052.0,808.2 1053.0,808.4 1054.0,808.4 1055.0,807.6 1056.0,808.2 1057.0,808.1 1058.0,808.4 1059.0,808.4 1060.0,807.6 1061.0,808.0 1062.0,808.2 1062.9,808.2 1063.9,808.0 1064.9,808.0 1065.9,808.2 1066.9,808.1 1067.9,807.8 1068.9,808.8 1069.9,807.3 1070.8,808.6 1071.8,807.9 1072.8,807.7 1073.8,807.6 1074.8,807.5 1075.8,807.8 1076.8,807.7 1077.8,807.6 1078.7,807.5 1079.7,807.6 1080.7,808.3 1081.7,808.2 1082.7,808.2 1083.7,807.4 1084.7,807.4 1085.6,807.3 1086.6,807.4 1087.6,807.2 1088.6,807.4 1089.6,806.6 1090.6,807.2 1091.6,806.5 1092.6,807.3 1093.5,807.9 1094.5,808.1 1095.5,807.8 1096.5,807.0 1097.6,806.8 1098.6,806.9 1099.7,807.2 1100.7,807.0 1101.8,806.9 1102.5,806.2 1103.3,805.8 1104.6,800.0 1105.6,795.0 1106.8,794.9 1107.8,800.4 1109.1,805.9 1109.9,806.7 1110.6,807.9 1111.6,807.8 1112.6,807.7 1113.7,807.7 1114.7,807.9 1115.7,807.6 1116.7,807.8 1117.7,807.8 1118.8,807.5 1119.8,807.6 1120.8,807.7 1121.8,807.7 1122.9,807.5 1123.9,807.6 1124.9,808.4 1125.9,806.8 1126.9,807.7 1128.0,807.5 1129.0,807.4 1130.0,807.7 1131.0,807.4 1132.0,807.5 1133.0,807.6 1134.0,807.6 1135.0,807.6 1136.0,807.4 1137.0,807.4 1138.0,807.7 1139.0,807.4 1140.0,807.6 1141.1,807.4 1142.1,807.4 1143.1,808.3 1144.1,807.6 1145.1,807.5 1146.1,807.3 1147.1,808.1 1148.1,807.4 1149.1,807.3 1150.1,807.7 1150.8,806.5 1151.6,805.5 1152.9,800.0 1153.9,793.9 1155.1,794.0 1156.1,800.5 1157.4,806.6 1158.2,807.6 1158.9,808.9 1159.9,808.9 1160.9,809.6 1161.8,808.8 1162.8,808.5 1163.8,808.5 1164.8,809.5 1165.7,808.7 1166.7,808.0 1167.7,808.7 1168.7,808.4 1169.7,809.3 1170.6,808.5 1171.6,808.4 1172.6,808.4 1173.6,808.2 1174.5,808.5 1175.5,808.1 1176.5,808.4 1177.4,807.9 1178.3,807.8 1179.2,807.3 1180.2,806.1 1181.1,806.8 1182.0,806.6 1183.0,805.7 1184.0,805.2 1185.0,804.3 1186.0,803.4 1187.2,802.9 1188.5,801.9 1189.8,803.4 1191.0,804.4 1192.0,805.9 1193.0,809.0 1194.0,810.4 1195.0,811.3 1196.0,811.1 1197.0,811.2 1198.0,810.7 1199.0,811.3 1200.0,810.4 1201.0,811.2 1202.0,811.4 1203.0,812.1 1204.0,811.3 1205.0,811.3 1206.0,811.3 1207.0,811.9 1208.0,811.1 1209.0,811.2 1210.0,811.2 1211.0,811.8 1212.0,811.4 1213.0,811.1 1214.0,810.6 1215.0,811.2 1216.0,811.8 1217.0,811.1 1218.0,811.3 1219.0,811.1 1220.0,811.4 1221.0,811.0 1222.0,811.2 1223.0,811.1 1224.0,810.8 1224.9,811.2 1225.8,810.4 1226.8,810.1 1227.8,809.9 1228.8,810.4 1229.9,810.9 1230.9,811.2 1232.0,810.8 1233.0,811.6 1234.0,811.7 1235.0,811.8 1236.0,811.8 1237.0,811.8 1238.0,811.8 1239.1,811.9 1240.1,811.9 1241.1,811.8 1242.2,812.6 1243.2,812.0 1244.2,812.0 1245.3,811.8 1246.3,811.2 1247.4,811.9 1248.4,811.9 1249.4,812.0 1250.5,812.0 1251.5,812.0"/>
<polyline stroke="#000000" stroke-width="5.7" points="116.0,951.4 117.0,951.1 118.0,952.2 119.0,951.1 120.0,952.0 121.1,951.1 122.1,951.2 123.1,951.9 124.1,950.9 125.1,951.2 126.1,950.9 127.1,951.0 128.1,951.0 129.1,950.7 130.2,950.0 131.2,950.8 132.2,950.7 133.2,951.0 134.2,950.8 135.2,950.8 136.2,950.7 137.2,950.5 138.2,950.7 139.2,951.3 140.3,951.2 141.3,950.7 142.3,950.6 143.3,950.0 144.3,950.7 145.3,950.4 146.3,950.4 147.3,950.9 148.3,950.5 149.4,950.5 150.4,950.5 151.4,950.4 152.4,950.3 153.4,950.4 154.4,950.2 155.4,950.2 156.4,950.9 157.4,950.3 158.5,949.5 159.5,950.0 160.5,950.0 161.5,950.2 162.5,950.0 163.5,950.0 164.5,949.9 165.5,949.8 166.5,949.8 167.5,949.6 168.5,949.7 169.6,949.5 170.6,949.8 171.6,949.4 172.6,949.5 173.6,949.6 174.6,948.5 175.6,949.5 176.6,949.3 177.6,949.1 178.6,949.0 179.6,949.2 180.6,948.9 181.7,949.7 182.7,948.1 183.7,948.0 184.7,949.6 185.7,948.8 186.7,948.6 187.7,948.5 188.7,948.8 189.7,948.7 190.7,948.6 191.7,948.3 192.7,948.6 193.8,948.5 194.8,948.2 195.8,948.1 196.8,948.4 197.8,948.3 198.8,948.8 199.8,948.0 200.8,947.8 201.8,947.2 202.8,947.2 203.8,947.0 204.8,947.6 205.8,947.6 206.9,947.7 207.9,947.5 208.9,947.0 209.9,947.4 210.9,947.5 211.9,947.6 212.9,947.5 213.9,947.2 214.9,947.4 215.9,947.2 216.9,947.8 217.9,947.1 219.0,947.0 220.0,947.0 221.0,947.0 222.0,947.0 223.0,946.9 224.0,946.7 225.0,946.7 226.0,945.9 227.0,945.8 228.0,946.3 228.9,947.0 229.9,946.5 230.9,946.3 231.9,946.3 232.9,946.7 233.9,945.5 234.9,946.1 235.9,946.0 236.8,945.7 237.8,945.6 238.8,945.8 239.8,945.5 240.8,945.4 241.8,945.5 242.8,945.4 243.8,945.4 244.7,944.5 245.7,945.0 246.7,945.0 247.7,944.9 248.7,945.0 249.7,944.6 250.7,944.7 251.6,944.5 252.6,944.6 253.6,943.8 254.6,945.4 255.6,944.3 256.6,944.4 257.6,944.1 258.6,944.6 259.5,943.0 260.5,943.9 261.5,944.6 262.5,943.8 263.4,943.8 264.4,943.6 265.3,943.3 266.2,943.4 267.2,943.1 268.1,942.9 269.1,943.1 270.0,942.6 271.0,942.5 271.9,942.6 272.9,942.1 273.9,942.0 274.9,942.1 275.9,941.9 276.8,941.7 277.8,941.3 278.8,941.4 279.8,941.4 280.7,941.2 281.7,940.5 282.7,941.0 283.6,941.0 284.6,940.9 285.6,940.9 286.6,940.0 287.6,940.7 288.5,940.3 289.5,940.2 290.6,940.7 291.7,939.2 292.8,938.9 293.8,938.5 294.9,938.2 296.0,937.7 297.0,936.8 297.9,936.3 298.9,935.9 299.9,936.3 300.9,935.4 301.8,934.3 302.8,933.7 303.9,934.9 305.0,935.8 306.2,937.6 307.5,939.6 308.5,939.1 309.6,939.5 310.6,938.9 311.7,938.2 312.7,938.9 313.8,938.9 314.8,938.9 315.9,939.0 316.9,938.1 317.7,936.0 318.5,933.0 319.5,930.0 320.5,926.1 321.4,926.2 322.3,925.5 323.2,925.1 324.0,926.5 324.8,927.5 325.6,930.8 326.3,932.9 327.3,935.7 328.2,937.9 329.2,939.1 330.2,941.4 331.2,943.8 332.1,945.3 333.1,947.1 334.1,948.4 335.3,949.6 336.5,950.7 337.5,950.8 338.4,950.7 339.4,950.9 340.4,950.9 341.3,950.6 342.3,951.5 343.2,951.5 344.2,951.5 345.2,950.9 346.1,950.6 347.1,951.5 348.1,950.7 349.0,951.0 350.0,950.8 351.0,950.7 352.0,950.8 353.0,950.5 353.9,950.9 354.9,950.5 355.9,950.6 356.9,950.8 357.9,950.5 358.9,950.7 359.9,950.7 360.9,950.6 361.8,950.5 362.8,950.5 363.8,950.5 364.8,949.8 365.8,950.4 366.8,950.4 367.8,950.6 368.8,950.3 369.7,949.7 370.7,950.2 371.7,950.5 372.7,950.3 373.7,950.5 374.7,950.2 375.7,950.2 376.6,950.2 377.6,950.1 378.6,950.2 379.6,949.5 380.6,950.3 381.6,950.0 382.6,950.1 383.6,949.9 384.5,950.9 385.5,950.2 386.5,950.0 387.5,949.9 388.5,950.0 389.5,949.4 390.5,949.8 391.6,949.8 392.6,949.9 393.6,950.0 394.6,949.8 395.6,949.6 396.6,949.7 397.7,949.9 398.7,949.2 399.7,949.0 400.7,950.4 401.7,949.7 402.7,949.1 403.8,948.7 404.8,949.5 405.8,949.4 406.8,949.7 407.8,949.7 408.8,949.7 409.8,948.9 410.9,949.5 411.9,949.5 412.9,949.2 413.9,949.5 414.9,948.8 415.9,949.5 417.0,949.4 418.0,949.3 419.0,949.4 420.0,948.4 421.0,949.0 422.0,949.2 423.0,949.1 424.0,948.3 425.0,949.0 426.0,948.9 427.0,949.0 428.0,948.6 429.0,948.8 430.0,948.6 431.0,947.8 432.0,948.6 433.0,948.6 434.0,948.4 435.0,948.5 436.0,948.2 437.0,948.3 438.0,948.2 439.0,948.3 440.0,948.2 441.0,948.0 442.0,948.8 443.0,947.8 444.0,948.7 445.0,947.1 446.0,947.1 447.0,948.3 448.0,947.9 449.0,947.6 450.0,947.5 451.0,947.4 452.0,947.5 453.0,947.5 454.0,947.3 455.0,947.2 456.0,946.5 457.0,947.4 458.0,947.2 459.0,947.2 460.0,946.9 461.0,946.3 462.0,946.8 463.0,947.6 464.0,946.7 465.0,947.3 466.0,946.1 467.0,946.6 468.0,946.6 469.0,946.5 470.0,946.5 471.0,946.5 472.0,946.2 473.0,946.5 474.0,946.4 475.0,946.3 476.0,946.2 477.0,946.0 478.0,945.9 479.0,946.9 480.0,946.1 481.0,945.0 482.0,945.3 483.0,946.0 484.0,946.0 485.0,946.3 486.0,946.3 487.0,946.4 488.0,945.5 489.0,945.4 490.0,945.7 491.0,945.4 492.0,945.3 493.0,945.4 494.0,945.4 495.0,945.1 496.0,945.3 497.0,945.3 498.0,945.1 499.0,945.0 500.0,944.8 501.0,945.1 502.0,945.7 503.0,945.0 504.0,944.9 505.0,944.2 506.0,945.2 507.0,944.1 508.0,943.7 509.0,944.4 510.0,943.7 511.0,945.3 512.0,944.6 513.0,944.4 514.0,945.3 515.0,944.3 516.0,944.0 517.0,944.3 518.0,944.1 519.0,944.2 520.0,944.1 521.0,944.1 522.0,943.7 523.0,943.8 524.0,944.4 525.0,943.8 526.0,943.6 527.0,943.7 528.0,943.7 529.0,943.7 530.0,944.4 531.0,943.4 532.0,943.6 533.0,943.3 534.0,943.1 535.0,942.3 536.0,943.2 537.0,943.0 538.0,943.2 539.0,942.9 540.0,942.9 541.0,942.1 542.0,942.7 543.0,943.0 544.0,942.8 545.0,942.7 546.0,942.5 547.0,942.5 548.0,942.5 549.0,943.4 550.0,942.5 551.0,942.4 552.0,942.3 553.0,941.8 554.0,942.3 555.0,942.3 556.0,942.2 557.0,942.3 558.0,942.2 559.0,942.2 560.0,942.0 561.0,942.0 562.0,941.8 563.0,941.8 564.0,942.0 565.0,942.3 566.0,941.2 567.0,941.5 568.0,941.1 569.0,942.1 570.0,942.0 571.0,941.5 572.0,941.5 573.0,941.4 574.0,941.2 575.0,941.4 576.0,941.1 577.0,941.3 578.0,941.0 579.0,940.1 580.0,941.6 581.0,941.0 582.0,940.3 583.0,941.0 584.0,940.6 585.0,940.2 586.0,940.8 587.0,940.7 588.0,940.7 589.0,940.5 590.0,940.5 591.0,940.5 592.0,940.3 593.0,940.3 594.0,940.4 595.0,940.4 596.0,940.1 597.0,940.1 598.0,940.8 599.0,940.0 600.0,939.9 601.0,939.8 602.0,938.8 603.0,939.7 604.0,939.6 605.0,939.5 606.0,938.9 607.0,939.5 608.0,939.2 609.0,939.3 610.0,939.1 611.0,939.2 612.0,938.9 613.0,938.2 614.0,939.0 615.0,939.6 616.0,939.6 617.0,938.7 618.0,937.5 619.0,938.2 620.0,938.4 621.0,938.2 622.0,938.0 623.0,937.5 624.0,937.9 625.0,937.9 626.0,937.9 627.0,937.7 628.0,937.5 629.0,938.1 630.0,937.5 631.0,937.4 632.0,937.5 633.0,937.1 634.0,938.0 635.0,937.2 636.0,936.9 637.0,936.7 638.0,936.8 639.0,936.6 640.0,936.6 641.0,935.6 642.0,936.3 643.0,935.4 644.0,936.1 645.0,936.4 646.0,936.1 647.0,936.1 648.0,935.7 649.0,935.8 650.0,934.9 651.0,935.7 652.0,935.5 653.0,936.0 654.0,935.5 655.0,935.3 655.9,935.0 656.9,934.3 657.9,934.9 658.9,934.2 659.9,934.8 660.9,934.5 661.9,935.6 662.9,934.7 663.9,934.3 664.9,934.5 665.9,934.1 666.9,934.2 667.8,933.9 668.8,933.8 669.8,933.7 670.8,933.7 671.8,933.5 672.8,933.5 673.8,933.4 674.8,933.4 675.8,933.3 676.8,933.0 677.8,933.9 678.8,933.0 679.8,933.1 680.8,933.1 681.8,932.8 682.8,933.7 683.8,932.9 684.8,932.6 685.8,932.8 686.8,932.8 687.9,932.6 688.9,932.6 689.9,932.5 690.9,931.5 691.9,932.3 692.9,932.4 693.9,932.3 694.9,932.2 696.0,932.3 697.0,933.1 698.0,931.9 699.0,932.2 700.0,931.9 701.0,932.8 702.0,931.0 703.0,932.6 704.0,932.2 705.0,931.3 706.0,932.1 707.0,931.8 708.0,931.2 709.0,930.9 710.0,930.9 711.0,930.8 712.0,931.0 713.0,930.6 714.0,930.5 715.0,930.6 716.0,929.3 717.0,928.7 718.0,929.5 719.0,928.6 720.0,927.9 720.9,927.5 721.8,926.3 722.8,926.4 723.7,926.1 724.6,925.3 725.5,925.0 726.4,924.7 727.3,926.8 728.2,926.8 729.2,926.3 730.1,927.4 731.0,928.4 732.0,929.4 733.0,929.9 734.0,931.7 735.0,932.9 736.0,933.4 737.0,934.9 738.0,935.8 738.9,936.7 739.8,937.3 740.6,937.7 741.5,938.4 742.4,937.0 743.2,935.5 744.6,927.5 745.2,918.5 746.1,850.1 746.9,781.8 747.1,781.8 748.0,815.9 748.8,850.1 750.0,918.5 750.8,934.8 752.0,940.5 752.9,940.1 753.8,940.1 754.8,940.9 755.8,940.9 756.8,940.9 757.8,940.8 758.8,940.9 759.8,941.5 760.8,940.8 761.8,940.8 762.8,940.9 763.8,940.9 764.9,940.6 765.9,940.7 766.9,940.6 767.9,940.6 768.9,940.9 769.9,940.6 770.9,940.6 771.9,940.6 772.9,940.7 773.9,940.1 775.0,940.8 776.0,941.3 777.0,940.8 778.0,940.8 779.0,940.8 780.0,940.6 781.0,939.8 782.0,940.8 782.9,940.8 783.9,940.7 784.9,940.5 785.9,941.4 786.9,940.4 787.9,940.0 788.8,940.7 789.8,940.3 790.8,940.6 791.8,941.1 792.8,940.5 793.8,940.3 794.7,940.3 795.7,940.4 796.7,940.5 797.7,940.1 798.7,940.9 799.6,940.2 800.6,940.2 801.6,940.1 802.6,940.2 803.6,940.0 804.6,940.1 805.5,940.1 806.5,940.0 807.5,940.2 808.5,940.1 809.5,939.9 810.6,940.0 811.6,939.7 812.6,940.6 813.6,939.6 814.7,939.7 815.7,939.5 816.7,939.1 817.7,939.7 818.8,939.7 819.8,939.8 820.8,939.5 821.8,939.5 822.8,938.8 823.9,939.6 824.9,939.4 825.9,938.4 826.9,939.5 828.0,939.2 829.0,939.2 830.0,939.2 831.0,939.3 832.0,939.3 833.0,939.0 834.1,938.5 835.1,939.0 836.1,938.9 837.1,939.0 838.1,939.0 839.1,939.0 840.2,938.8 841.2,938.9 842.2,938.7 843.2,938.3 844.2,939.7 845.2,938.8 846.2,938.7 847.3,938.9 848.3,938.9 849.3,938.5 850.3,938.7 851.3,938.0 852.3,938.7 853.4,937.7 854.4,938.6 855.4,938.3 856.4,938.4 857.4,937.4 858.4,937.8 859.5,938.2 860.5,938.3 861.5,938.3 862.5,938.3 863.4,938.3 864.3,938.2 865.2,937.4 866.2,937.9 867.1,938.1 868.0,937.9 869.0,936.6 870.0,934.7 871.0,934.0 872.0,932.8 873.0,934.2 874.0,935.5 875.0,936.7 876.0,937.8 877.0,938.2 878.0,937.7 879.0,938.9 880.0,938.6 881.0,938.6 882.0,939.4 883.0,938.8 884.0,939.4 885.0,938.4 886.0,939.3 887.0,938.6 888.0,937.8 889.0,938.5 890.0,938.7 891.0,938.6 892.0,938.4 893.0,938.5 894.0,938.3 895.0,938.4 896.0,938.6 897.0,938.4 898.0,938.5 899.0,938.2 900.0,938.3 901.0,937.8 902.0,938.9 903.0,937.5 904.0,938.4 905.0,938.2 906.0,938.3 907.0,939.0 908.0,938.3 909.0,937.9 910.0,938.3 911.0,937.9 912.0,938.9 913.0,938.0 914.0,937.8 915.0,938.7 916.0,937.8 917.0,938.0 918.0,938.0 919.0,937.7 920.0,937.9 921.0,938.3 922.0,937.6 923.0,937.5 924.0,937.7 925.0,937.7 926.0,937.6 927.0,937.0 928.0,938.4 929.0,937.4 930.0,937.5 931.0,936.7 932.1,937.5 933.1,938.0 934.2,937.3 935.2,937.3 936.2,938.0 937.3,937.0 938.3,936.6 939.4,937.0 940.4,937.0 941.5,937.6 942.5,936.9 943.4,937.0 944.4,936.9 945.3,936.5 946.2,936.0 947.2,936.5 948.1,936.5 949.1,936.4 950.0,935.3 951.0,936.0 952.1,936.0 953.1,936.4 954.2,935.4 955.2,935.3 956.2,935.2 957.2,936.7 958.1,936.0 959.1,936.7 960.0,937.2 961.0,937.4 962.0,938.5 963.0,940.3 964.0,943.1 965.0,945.1 966.0,947.1 967.1,948.3 968.3,949.4 969.7,951.4 970.5,951.6 971.2,951.9 972.0,951.6 972.7,950.7 974.1,948.8 975.2,945.7 976.3,942.3 977.4,940.3 978.3,937.6 979.1,936.4 980.0,933.0 980.8,898.6 981.6,864.2 982.5,795.5 983.0,795.5 983.4,864.2 984.3,933.0 984.9,955.8 985.8,968.0 986.6,970.0 987.5,972.1 988.2,972.2 989.0,972.3 990.0,972.5 991.0,972.4 992.0,973.1 993.0,972.4 994.0,972.4 995.0,972.6 996.0,972.6 997.0,973.0 998.0,972.4 999.0,972.2 1000.0,972.6 1001.0,972.5 1002.0,972.3 1003.0,972.3 1004.0,971.5 1005.0,972.4 1006.0,972.5 1007.0,972.5 1008.0,972.2 1009.0,971.7 1010.0,972.4 1011.0,972.5 1012.0,971.7 1013.0,972.2 1014.0,972.3 1015.0,972.2 1016.0,972.4 1017.0,972.1 1018.0,972.4 1019.0,972.9 1020.0,972.4 1021.0,972.3 1022.0,972.3 1023.0,972.3 1024.0,972.4 1025.0,972.4 1026.0,972.2 1027.0,972.4 1028.0,972.1 1029.0,972.2 1030.0,972.4 1031.0,972.2 1032.0,972.2 1033.0,972.3 1034.0,973.0 1035.0,972.3 1036.0,972.2 1037.0,972.0 1038.0,972.8 1039.0,973.1 1040.0,972.7 1041.0,972.3 1042.0,972.2 1043.0,972.0 1044.0,972.2 1045.0,972.0 1046.0,971.9 1047.0,972.2 1048.0,972.1 1049.0,973.1 1050.0,971.9 1051.0,971.9 1052.0,972.0 1053.0,971.2 1054.0,972.2 1055.0,972.0 1056.0,972.1 1057.0,972.1 1058.0,972.7 1059.0,971.4 1060.0,972.0 1061.0,972.8 1062.0,971.9 1063.0,971.7 1064.0,971.8 1065.0,971.7 1066.0,971.6 1067.0,971.6 1068.0,972.3 1069.0,971.5 1070.0,971.6 1071.0,971.4 1072.0,971.2 1073.0,971.3 1074.0,971.4 1075.0,971.2 1076.0,971.1 1076.9,971.2 1077.9,971.1 1078.8,971.1 1079.8,970.8 1080.8,970.8 1081.7,971.0 1082.7,970.6 1083.6,970.8 1084.6,970.5 1085.5,969.9 1086.5,970.6 1087.5,970.7 1088.4,970.9 1089.3,971.4 1090.3,971.9 1091.2,971.1 1092.2,971.9 1093.2,971.1 1094.1,971.2 1095.0,971.4 1096.0,971.6 1097.0,971.3 1098.0,971.4 1099.0,971.5 1100.0,971.6 1101.0,971.6 1102.1,971.4 1103.3,968.3 1104.4,959.1 1105.3,950.2 1106.3,950.2 1107.2,959.6 1108.3,969.2 1109.5,972.6 1110.6,972.7 1111.6,972.3 1112.6,973.2 1113.6,973.1 1114.6,972.5 1115.7,972.2 1116.7,971.8 1117.7,972.5 1118.7,972.4 1119.7,972.1 1120.8,972.4 1121.8,971.6 1122.8,972.2 1123.8,973.0 1124.8,972.2 1125.8,972.0 1126.9,972.1 1127.9,971.4 1128.9,972.2 1129.9,972.2 1130.9,972.1 1132.0,972.0 1133.0,972.2 1134.0,972.1 1135.0,972.1 1136.0,972.2 1137.0,972.6 1138.0,972.8 1139.0,972.6 1140.0,973.5 1141.0,973.0 1142.0,973.2 1143.0,973.3 1144.0,973.6 1145.0,973.7 1146.0,974.2 1146.9,973.8 1147.9,973.5 1148.8,973.4 1149.7,974.8 1150.7,974.1 1151.9,970.0 1153.0,958.4 1153.9,947.1 1154.9,947.1 1155.8,958.8 1156.9,970.8 1158.1,975.2 1159.1,975.9 1160.1,975.1 1161.1,975.2 1162.1,974.8 1163.1,974.5 1164.1,974.0 1165.1,974.3 1166.1,975.1 1167.1,975.8 1168.1,975.2 1169.1,974.8 1170.1,975.8 1171.1,975.0 1172.1,974.9 1173.1,975.1 1174.1,975.8 1175.1,974.9 1176.1,974.9 1177.1,975.2 1178.1,974.9 1179.1,975.2 1180.1,975.5 1181.1,975.0 1182.1,974.4 1183.1,975.1 1184.1,974.8 1185.1,975.1 1186.1,974.9 1187.1,975.0 1188.1,974.8 1189.1,974.8 1190.1,975.1 1191.1,975.9 1192.1,975.1 1193.1,974.9 1194.1,975.1 1195.1,975.1 1196.1,974.5 1197.1,975.1 1198.0,975.0 1199.0,974.3 1200.0,975.1 1201.0,974.9 1202.0,974.8 1203.0,975.9 1204.0,975.0 1205.0,974.5 1206.0,976.0 1207.0,974.9 1208.0,975.1 1209.0,975.1 1210.0,975.6 1211.0,974.9 1212.0,974.5 1213.0,975.2 1214.0,975.7 1215.0,975.1 1216.0,975.7 1217.0,974.3 1218.0,974.2 1219.0,975.0 1220.0,974.7 1221.0,974.5 1222.0,973.5 1223.0,974.0 1224.0,973.3 1224.9,973.8 1225.8,972.5 1226.8,972.6 1227.8,971.6 1228.8,972.3 1229.9,973.0 1230.9,973.1 1232.0,974.4 1233.0,974.7 1234.0,974.8 1234.9,974.7 1235.9,975.6 1236.9,974.9 1237.8,974.8 1238.8,974.9 1239.8,974.9 1240.8,975.4 1241.8,974.7 1242.7,975.2 1243.7,975.4 1244.7,975.5 1245.7,975.7 1246.6,975.5 1247.6,975.8 1248.6,975.9 1249.5,976.0 1250.5,976.1 1251.5,976.0"/>
</g>
<g fill="#000" shape-rendering="crispEdges">
<rect x="112" y="73" width="4" height="924"/>
<rect x="1251" y="73" width="4" height="924"/>
<rect x="112" y="977" width="1143" height="4"/>
<rect x="302" y="981" width="4" height="16"/>
<rect x="491" y="981" width="5" height="16"/>
<rect x="681" y="981" width="5" height="16"/>
<rect x="871" y="981" width="5" height="16"/>
<rect x="1061" y="981" width="4" height="16"/>
</g>
<g fill="#ff0000" shape-rendering="crispEdges">
<rect x="677" y="77.5" width="5" height="24.8"/>
<rect x="677" y="123.2" width="5" height="24.8"/>
<rect x="677" y="169.0" width="5" height="24.8"/>
<rect x="677" y="214.8" width="5" height="24.8"/>
<rect x="677" y="260.5" width="5" height="24.8"/>
<rect x="677" y="306.2" width="5" height="24.8"/>
<rect x="677" y="352.0" width="5" height="24.8"/>
<rect x="677" y="397.8" width="5" height="24.8"/>
<rect x="677" y="443.5" width="5" height="24.8"/>
<rect x="677" y="489.2" width="5" height="24.8"/>
<rect x="677" y="535.0" width="5" height="24.8"/>
<rect x="677" y="580.8" width="5" height="24.8"/>
<rect x="677" y="626.5" width="5" height="24.8"/>
<rect x="677" y="672.2" width="5" height="24.8"/>
<rect x="677" y="718.0" width="5" height="24.8"/>
<rect x="677" y="763.8" width="5" height="24.8"/>
<rect x="677" y="809.5" width="5" height="24.8"/>
<rect x="677" y="855.2" width="5" height="24.8"/>
<rect x="677" y="901.0" width="5" height="24.8"/>
<rect x="677" y="946.8" width="5" height="24.8"/>
<rect x="805" y="89.2" width="5" height="24.8"/>
<rect x="805" y="134.9" width="5" height="24.8"/>
<rect x="805" y="180.7" width="5" height="24.8"/>
<rect x="805" y="226.4" width="5" height="24.8"/>
<rect x="805" y="272.2" width="5" height="24.8"/>
<rect x="805" y="317.9" width="5" height="24.8"/>
<rect x="805" y="363.7" width="5" height="24.8"/>
<rect x="805" y="409.4" width="5" height="24.8"/>
<rect x="805" y="455.2" width="5" height="24.8"/>
<rect x="805" y="500.9" width="5" height="24.8"/>
<rect x="805" y="546.7" width="5" height="24.8"/>
<rect x="805" y="592.5" width="5" height="24.8"/>
<rect x="805" y="638.2" width="5" height="24.8"/>
<rect x="805" y="684.0" width="5" height="24.8"/>
<rect x="805" y="729.7" width="5" height="24.8"/>
<rect x="805" y="775.5" width="5" height="24.8"/>
<rect x="805" y="821.2" width="5" height="24.8"/>
<rect x="805" y="867.0" width="5" height="24.8"/>
<rect x="805" y="912.7" width="5" height="24.8"/>
<rect x="805" y="958.5" width="5" height="23.2"/>
<rect x="677" y="77" width="25" height="5.6"/>
<rect x="723" y="77" width="26" height="5.6"/>
<rect x="770" y="77" width="25" height="5.6"/>
<rect x="677" y="976.2" width="12" height="5.6"/>
<rect x="710" y="976.2" width="26" height="5.6"/>
<rect x="757" y="976.2" width="25" height="5.6"/>
<rect x="803" y="976.2" width="7" height="5.6"/>
</g>
<rect x="112" y="73" width="1143" height="4" fill="#000" shape-rendering="crispEdges"/>
<g shape-rendering="crispEdges">
<rect x="130" y="93" width="396" height="390" fill="#000"/>
<rect x="116" y="80" width="396" height="390" fill="#000"/>
<rect x="117" y="81" width="394" height="388" fill="#fff"/>
<rect x="123" y="113.0" width="118" height="6.0" fill="#ff8000"/>
<rect x="123" y="176.7" width="118" height="5.5" fill="#8000ff"/>
<rect x="123" y="239.6" width="118" height="6.5" fill="#00e000"/>
<rect x="123" y="303.6" width="118" height="5.5" fill="#0000ff"/>
<rect x="123" y="366.9" width="118" height="5.5" fill="#ff0000"/>
<rect x="123" y="430.1" width="118" height="6.0" fill="#000000"/>
</g>
<g font-family="'Liberation Serif', serif" font-size="51.6" fill="#000" filter="url(#bw)">
<text x="253.5" y="132.4">9.0-Ni-ACF</text>
<text x="253.5" y="196.4">5.0-Ni-ACF</text>
<text x="253.5" y="260.0">1.0-Ni-ACF</text>
<text x="253.5" y="323.4">0.5-Ni-ACF</text>
<text x="253.5" y="386.9">0.1-Ni-ACF</text>
<text x="253.5" y="450.9">Pi-ACF</text>
</g>
<g font-family="'Liberation Serif', serif" font-size="51" fill="#000" text-anchor="middle" filter="url(#bw)">
<text x="114.5" y="1048">1200</text>
<text x="304.5" y="1048">1000</text>
<text x="494.0" y="1048">800</text>
<text x="683.7" y="1048">600</text>
<text x="873.4" y="1048">400</text>
<text x="1062.7" y="1048">200</text>
<text x="1253.0" y="1048">0</text>
</g>
<text x="414" y="1144" font-family="'Liberation Serif', serif" font-size="65" filter="url(#bw)" textLength="539.5" lengthAdjust="spacingAndGlyphs">Binding energy (eV)</text>
<g transform="translate(71.5,696.4) rotate(-90)" font-family="'Liberation Serif', serif" font-size="66" filter="url(#bw)"><text x="0" y="0" textLength="205.5" lengthAdjust="spacingAndGlyphs">Intensity</text><text x="221" y="0" textLength="136" lengthAdjust="spacingAndGlyphs">(a.u.)</text></g>
<text x="713.5" y="48" font-family="'Liberation Serif', serif" font-size="52" filter="url(#bw)">O</text>
<text x="751" y="62" font-family="'Liberation Serif', serif" font-size="35" filter="url(#bw)">1S</text>
</svg>
</body></html>
